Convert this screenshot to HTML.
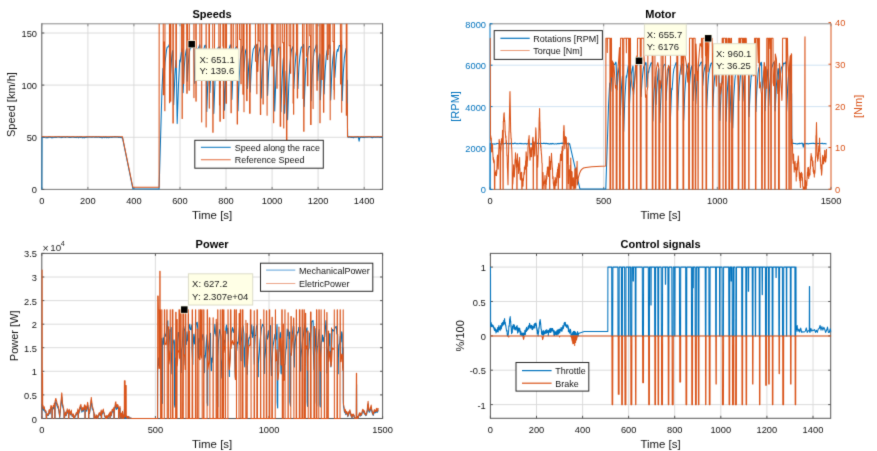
<!DOCTYPE html><html><head><meta charset="utf-8"><style>html,body{margin:0;padding:0;background:#fff;width:877px;height:451px;overflow:hidden}svg{display:block}text{font-family:"Liberation Sans",sans-serif}</style></head><body>
<svg width="877" height="451" viewBox="0 0 877 451">
<filter id="bf" x="-2%" y="-2%" width="104%" height="104%" color-interpolation-filters="sRGB"><feConvolveMatrix order="3" kernelMatrix="0.02 0.08 0.02 0.08 0.6 0.08 0.02 0.08 0.02" edgeMode="duplicate" preserveAlpha="true"/></filter>
<g filter="url(#bf)">
<rect x="-20" y="-20" width="917" height="491" fill="#fff"/>
<defs>
<clipPath id="c1"><rect x="41.2" y="23.8" width="342.0" height="166.2"/></clipPath>
<clipPath id="c2"><rect x="489.4" y="23.8" width="342.2" height="166.2"/></clipPath>
<clipPath id="c3"><rect x="41.2" y="253.4" width="342.0" height="165.7"/></clipPath>
<clipPath id="c4"><rect x="489.8" y="253.4" width="341.5" height="165.5"/></clipPath>
</defs>
<line x1="87.9" y1="23.8" x2="87.9" y2="189.4" stroke="#d8d8d8" stroke-width="0.9"/>
<line x1="133.9" y1="23.8" x2="133.9" y2="189.4" stroke="#d8d8d8" stroke-width="0.9"/>
<line x1="180.0" y1="23.8" x2="180.0" y2="189.4" stroke="#d8d8d8" stroke-width="0.9"/>
<line x1="226.0" y1="23.8" x2="226.0" y2="189.4" stroke="#d8d8d8" stroke-width="0.9"/>
<line x1="272.1" y1="23.8" x2="272.1" y2="189.4" stroke="#d8d8d8" stroke-width="0.9"/>
<line x1="318.1" y1="23.8" x2="318.1" y2="189.4" stroke="#d8d8d8" stroke-width="0.9"/>
<line x1="364.2" y1="23.8" x2="364.2" y2="189.4" stroke="#d8d8d8" stroke-width="0.9"/>
<line x1="41.8" y1="137.3" x2="382.6" y2="137.3" stroke="#d8d8d8" stroke-width="0.9"/>
<line x1="41.8" y1="85.1" x2="382.6" y2="85.1" stroke="#d8d8d8" stroke-width="0.9"/>
<line x1="41.8" y1="33.0" x2="382.6" y2="33.0" stroke="#d8d8d8" stroke-width="0.9"/>
<line x1="603.7" y1="23.8" x2="603.7" y2="189.4" stroke="#d8d8d8" stroke-width="0.9"/>
<line x1="717.3" y1="23.8" x2="717.3" y2="189.4" stroke="#d8d8d8" stroke-width="0.9"/>
<line x1="490.0" y1="148.0" x2="831.0" y2="148.0" stroke="#cbdff0" stroke-width="0.9"/>
<line x1="490.0" y1="106.6" x2="831.0" y2="106.6" stroke="#cbdff0" stroke-width="0.9"/>
<line x1="490.0" y1="65.2" x2="831.0" y2="65.2" stroke="#cbdff0" stroke-width="0.9"/>
<line x1="155.4" y1="253.4" x2="155.4" y2="418.5" stroke="#d8d8d8" stroke-width="0.9"/>
<line x1="269.0" y1="253.4" x2="269.0" y2="418.5" stroke="#d8d8d8" stroke-width="0.9"/>
<line x1="41.8" y1="394.9" x2="382.6" y2="394.9" stroke="#d8d8d8" stroke-width="0.9"/>
<line x1="41.8" y1="371.3" x2="382.6" y2="371.3" stroke="#d8d8d8" stroke-width="0.9"/>
<line x1="41.8" y1="347.7" x2="382.6" y2="347.7" stroke="#d8d8d8" stroke-width="0.9"/>
<line x1="41.8" y1="324.2" x2="382.6" y2="324.2" stroke="#d8d8d8" stroke-width="0.9"/>
<line x1="41.8" y1="300.6" x2="382.6" y2="300.6" stroke="#d8d8d8" stroke-width="0.9"/>
<line x1="41.8" y1="277.0" x2="382.6" y2="277.0" stroke="#d8d8d8" stroke-width="0.9"/>
<line x1="536.5" y1="253.4" x2="536.5" y2="418.3" stroke="#d8d8d8" stroke-width="0.9"/>
<line x1="582.6" y1="253.4" x2="582.6" y2="418.3" stroke="#d8d8d8" stroke-width="0.9"/>
<line x1="628.6" y1="253.4" x2="628.6" y2="418.3" stroke="#d8d8d8" stroke-width="0.9"/>
<line x1="674.7" y1="253.4" x2="674.7" y2="418.3" stroke="#d8d8d8" stroke-width="0.9"/>
<line x1="720.8" y1="253.4" x2="720.8" y2="418.3" stroke="#d8d8d8" stroke-width="0.9"/>
<line x1="766.9" y1="253.4" x2="766.9" y2="418.3" stroke="#d8d8d8" stroke-width="0.9"/>
<line x1="813.0" y1="253.4" x2="813.0" y2="418.3" stroke="#d8d8d8" stroke-width="0.9"/>
<line x1="490.4" y1="404.6" x2="830.7" y2="404.6" stroke="#d8d8d8" stroke-width="0.9"/>
<line x1="490.4" y1="370.2" x2="830.7" y2="370.2" stroke="#d8d8d8" stroke-width="0.9"/>
<line x1="490.4" y1="335.9" x2="830.7" y2="335.9" stroke="#d8d8d8" stroke-width="0.9"/>
<line x1="490.4" y1="301.5" x2="830.7" y2="301.5" stroke="#d8d8d8" stroke-width="0.9"/>
<line x1="490.4" y1="267.1" x2="830.7" y2="267.1" stroke="#d8d8d8" stroke-width="0.9"/>
<line x1="41.8" y1="23.8" x2="382.6" y2="23.8" stroke="#8a8a8a" stroke-width="1"/>
<line x1="41.8" y1="189.4" x2="382.6" y2="189.4" stroke="#777" stroke-width="1"/>
<line x1="41.8" y1="23.3" x2="41.8" y2="189.9" stroke="#555" stroke-width="1"/>
<line x1="382.6" y1="23.3" x2="382.6" y2="189.9" stroke="#555" stroke-width="1"/>
<line x1="41.8" y1="189.4" x2="41.8" y2="186.9" stroke="#777" stroke-width="1"/>
<line x1="41.8" y1="23.8" x2="41.8" y2="26.3" stroke="#8a8a8a" stroke-width="1"/>
<line x1="87.9" y1="189.4" x2="87.9" y2="186.9" stroke="#777" stroke-width="1"/>
<line x1="87.9" y1="23.8" x2="87.9" y2="26.3" stroke="#8a8a8a" stroke-width="1"/>
<line x1="133.9" y1="189.4" x2="133.9" y2="186.9" stroke="#777" stroke-width="1"/>
<line x1="133.9" y1="23.8" x2="133.9" y2="26.3" stroke="#8a8a8a" stroke-width="1"/>
<line x1="180.0" y1="189.4" x2="180.0" y2="186.9" stroke="#777" stroke-width="1"/>
<line x1="180.0" y1="23.8" x2="180.0" y2="26.3" stroke="#8a8a8a" stroke-width="1"/>
<line x1="226.0" y1="189.4" x2="226.0" y2="186.9" stroke="#777" stroke-width="1"/>
<line x1="226.0" y1="23.8" x2="226.0" y2="26.3" stroke="#8a8a8a" stroke-width="1"/>
<line x1="272.1" y1="189.4" x2="272.1" y2="186.9" stroke="#777" stroke-width="1"/>
<line x1="272.1" y1="23.8" x2="272.1" y2="26.3" stroke="#8a8a8a" stroke-width="1"/>
<line x1="318.1" y1="189.4" x2="318.1" y2="186.9" stroke="#777" stroke-width="1"/>
<line x1="318.1" y1="23.8" x2="318.1" y2="26.3" stroke="#8a8a8a" stroke-width="1"/>
<line x1="364.2" y1="189.4" x2="364.2" y2="186.9" stroke="#777" stroke-width="1"/>
<line x1="364.2" y1="23.8" x2="364.2" y2="26.3" stroke="#8a8a8a" stroke-width="1"/>
<line x1="41.8" y1="189.4" x2="44.3" y2="189.4" stroke="#555" stroke-width="1"/>
<line x1="382.6" y1="189.4" x2="380.1" y2="189.4" stroke="#555" stroke-width="1"/>
<line x1="41.8" y1="137.3" x2="44.3" y2="137.3" stroke="#555" stroke-width="1"/>
<line x1="382.6" y1="137.3" x2="380.1" y2="137.3" stroke="#555" stroke-width="1"/>
<line x1="41.8" y1="85.1" x2="44.3" y2="85.1" stroke="#555" stroke-width="1"/>
<line x1="382.6" y1="85.1" x2="380.1" y2="85.1" stroke="#555" stroke-width="1"/>
<line x1="41.8" y1="33.0" x2="44.3" y2="33.0" stroke="#555" stroke-width="1"/>
<line x1="382.6" y1="33.0" x2="380.1" y2="33.0" stroke="#555" stroke-width="1"/>
<line x1="490.0" y1="23.8" x2="831.0" y2="23.8" stroke="#8a8a8a" stroke-width="1"/>
<line x1="490.0" y1="189.4" x2="831.0" y2="189.4" stroke="#777" stroke-width="1"/>
<line x1="490.0" y1="23.3" x2="490.0" y2="189.9" stroke="#0072BD" stroke-width="1"/>
<line x1="831.0" y1="23.3" x2="831.0" y2="189.9" stroke="#D95319" stroke-width="1"/>
<line x1="490.0" y1="189.4" x2="490.0" y2="186.9" stroke="#777" stroke-width="1"/>
<line x1="490.0" y1="23.8" x2="490.0" y2="26.3" stroke="#8a8a8a" stroke-width="1"/>
<line x1="603.7" y1="189.4" x2="603.7" y2="186.9" stroke="#777" stroke-width="1"/>
<line x1="603.7" y1="23.8" x2="603.7" y2="26.3" stroke="#8a8a8a" stroke-width="1"/>
<line x1="717.3" y1="189.4" x2="717.3" y2="186.9" stroke="#777" stroke-width="1"/>
<line x1="717.3" y1="23.8" x2="717.3" y2="26.3" stroke="#8a8a8a" stroke-width="1"/>
<line x1="831.0" y1="189.4" x2="831.0" y2="186.9" stroke="#777" stroke-width="1"/>
<line x1="831.0" y1="23.8" x2="831.0" y2="26.3" stroke="#8a8a8a" stroke-width="1"/>
<line x1="490.0" y1="189.4" x2="492.5" y2="189.4" stroke="#0072BD" stroke-width="1"/>
<line x1="490.0" y1="148.0" x2="492.5" y2="148.0" stroke="#0072BD" stroke-width="1"/>
<line x1="490.0" y1="106.6" x2="492.5" y2="106.6" stroke="#0072BD" stroke-width="1"/>
<line x1="490.0" y1="65.2" x2="492.5" y2="65.2" stroke="#0072BD" stroke-width="1"/>
<line x1="490.0" y1="23.8" x2="492.5" y2="23.8" stroke="#0072BD" stroke-width="1"/>
<line x1="831.0" y1="189.2" x2="828.5" y2="189.2" stroke="#D95319" stroke-width="1"/>
<line x1="831.0" y1="147.5" x2="828.5" y2="147.5" stroke="#D95319" stroke-width="1"/>
<line x1="831.0" y1="105.9" x2="828.5" y2="105.9" stroke="#D95319" stroke-width="1"/>
<line x1="831.0" y1="64.2" x2="828.5" y2="64.2" stroke="#D95319" stroke-width="1"/>
<line x1="831.0" y1="22.6" x2="828.5" y2="22.6" stroke="#D95319" stroke-width="1"/>
<line x1="41.8" y1="253.4" x2="382.6" y2="253.4" stroke="#555" stroke-width="1"/>
<line x1="41.8" y1="418.5" x2="382.6" y2="418.5" stroke="#555" stroke-width="1"/>
<line x1="41.8" y1="252.9" x2="41.8" y2="419.0" stroke="#555" stroke-width="1"/>
<line x1="382.6" y1="252.9" x2="382.6" y2="419.0" stroke="#555" stroke-width="1"/>
<line x1="41.8" y1="418.5" x2="41.8" y2="416.0" stroke="#555" stroke-width="1"/>
<line x1="41.8" y1="253.4" x2="41.8" y2="255.9" stroke="#555" stroke-width="1"/>
<line x1="155.4" y1="418.5" x2="155.4" y2="416.0" stroke="#555" stroke-width="1"/>
<line x1="155.4" y1="253.4" x2="155.4" y2="255.9" stroke="#555" stroke-width="1"/>
<line x1="269.0" y1="418.5" x2="269.0" y2="416.0" stroke="#555" stroke-width="1"/>
<line x1="269.0" y1="253.4" x2="269.0" y2="255.9" stroke="#555" stroke-width="1"/>
<line x1="382.6" y1="418.5" x2="382.6" y2="416.0" stroke="#555" stroke-width="1"/>
<line x1="382.6" y1="253.4" x2="382.6" y2="255.9" stroke="#555" stroke-width="1"/>
<line x1="41.8" y1="418.5" x2="44.3" y2="418.5" stroke="#555" stroke-width="1"/>
<line x1="382.6" y1="418.5" x2="380.1" y2="418.5" stroke="#555" stroke-width="1"/>
<line x1="41.8" y1="394.9" x2="44.3" y2="394.9" stroke="#555" stroke-width="1"/>
<line x1="382.6" y1="394.9" x2="380.1" y2="394.9" stroke="#555" stroke-width="1"/>
<line x1="41.8" y1="371.3" x2="44.3" y2="371.3" stroke="#555" stroke-width="1"/>
<line x1="382.6" y1="371.3" x2="380.1" y2="371.3" stroke="#555" stroke-width="1"/>
<line x1="41.8" y1="347.7" x2="44.3" y2="347.7" stroke="#555" stroke-width="1"/>
<line x1="382.6" y1="347.7" x2="380.1" y2="347.7" stroke="#555" stroke-width="1"/>
<line x1="41.8" y1="324.2" x2="44.3" y2="324.2" stroke="#555" stroke-width="1"/>
<line x1="382.6" y1="324.2" x2="380.1" y2="324.2" stroke="#555" stroke-width="1"/>
<line x1="41.8" y1="300.6" x2="44.3" y2="300.6" stroke="#555" stroke-width="1"/>
<line x1="382.6" y1="300.6" x2="380.1" y2="300.6" stroke="#555" stroke-width="1"/>
<line x1="41.8" y1="277.0" x2="44.3" y2="277.0" stroke="#555" stroke-width="1"/>
<line x1="382.6" y1="277.0" x2="380.1" y2="277.0" stroke="#555" stroke-width="1"/>
<line x1="41.8" y1="253.4" x2="44.3" y2="253.4" stroke="#555" stroke-width="1"/>
<line x1="382.6" y1="253.4" x2="380.1" y2="253.4" stroke="#555" stroke-width="1"/>
<line x1="490.4" y1="253.4" x2="830.7" y2="253.4" stroke="#555" stroke-width="1"/>
<line x1="490.4" y1="418.3" x2="830.7" y2="418.3" stroke="#555" stroke-width="1"/>
<line x1="490.4" y1="252.9" x2="490.4" y2="418.8" stroke="#555" stroke-width="1"/>
<line x1="830.7" y1="252.9" x2="830.7" y2="418.8" stroke="#555" stroke-width="1"/>
<line x1="490.4" y1="418.3" x2="490.4" y2="415.8" stroke="#555" stroke-width="1"/>
<line x1="490.4" y1="253.4" x2="490.4" y2="255.9" stroke="#555" stroke-width="1"/>
<line x1="536.5" y1="418.3" x2="536.5" y2="415.8" stroke="#555" stroke-width="1"/>
<line x1="536.5" y1="253.4" x2="536.5" y2="255.9" stroke="#555" stroke-width="1"/>
<line x1="582.6" y1="418.3" x2="582.6" y2="415.8" stroke="#555" stroke-width="1"/>
<line x1="582.6" y1="253.4" x2="582.6" y2="255.9" stroke="#555" stroke-width="1"/>
<line x1="628.6" y1="418.3" x2="628.6" y2="415.8" stroke="#555" stroke-width="1"/>
<line x1="628.6" y1="253.4" x2="628.6" y2="255.9" stroke="#555" stroke-width="1"/>
<line x1="674.7" y1="418.3" x2="674.7" y2="415.8" stroke="#555" stroke-width="1"/>
<line x1="674.7" y1="253.4" x2="674.7" y2="255.9" stroke="#555" stroke-width="1"/>
<line x1="720.8" y1="418.3" x2="720.8" y2="415.8" stroke="#555" stroke-width="1"/>
<line x1="720.8" y1="253.4" x2="720.8" y2="255.9" stroke="#555" stroke-width="1"/>
<line x1="766.9" y1="418.3" x2="766.9" y2="415.8" stroke="#555" stroke-width="1"/>
<line x1="766.9" y1="253.4" x2="766.9" y2="255.9" stroke="#555" stroke-width="1"/>
<line x1="813.0" y1="418.3" x2="813.0" y2="415.8" stroke="#555" stroke-width="1"/>
<line x1="813.0" y1="253.4" x2="813.0" y2="255.9" stroke="#555" stroke-width="1"/>
<line x1="490.4" y1="404.6" x2="492.9" y2="404.6" stroke="#555" stroke-width="1"/>
<line x1="830.7" y1="404.6" x2="828.2" y2="404.6" stroke="#555" stroke-width="1"/>
<line x1="490.4" y1="370.2" x2="492.9" y2="370.2" stroke="#555" stroke-width="1"/>
<line x1="830.7" y1="370.2" x2="828.2" y2="370.2" stroke="#555" stroke-width="1"/>
<line x1="490.4" y1="335.9" x2="492.9" y2="335.9" stroke="#555" stroke-width="1"/>
<line x1="830.7" y1="335.9" x2="828.2" y2="335.9" stroke="#555" stroke-width="1"/>
<line x1="490.4" y1="301.5" x2="492.9" y2="301.5" stroke="#555" stroke-width="1"/>
<line x1="830.7" y1="301.5" x2="828.2" y2="301.5" stroke="#555" stroke-width="1"/>
<line x1="490.4" y1="267.1" x2="492.9" y2="267.1" stroke="#555" stroke-width="1"/>
<line x1="830.7" y1="267.1" x2="828.2" y2="267.1" stroke="#555" stroke-width="1"/>
<path d="M41.8,189.4 L42,137.3 L42.6,137.4 L43,137.1 L43.2,137.3 L43.4,137.2 L43.9,137.5 L44.2,137.5 L44.6,137.4 L44.7,137.3 L45,137.6 L45.9,137.7 L46.3,137.8 L46.5,137.5 L46.6,137.7 L47.1,137.6 L47.3,137.7 L47.6,137.6 L47.7,137.6 L47.8,137.5 L48.1,137.7 L48.6,137.1 L48.8,137 L49.1,137.1 L49.2,137 L50.2,137.2 L50.3,137.1 L50.7,137.5 L50.9,137.4 L51.1,137.6 L51.4,137.6 L51.5,137.7 L51.6,137.6 L52.2,137.6 L52.3,137.4 L52.7,137.7 L53.8,137.6 L54,137.3 L54.1,137.4 L54.3,137.2 L54.5,137.3 L54.7,137.2 L55.2,137.4 L55.5,137.3 L55.6,137.1 L56.3,137.4 L57.2,137.1 L57.5,136.9 L57.7,136.9 L57.9,137.1 L58.4,136.9 L58.5,137.1 L58.7,136.9 L58.8,137 L59.1,136.9 L59.4,137.2 L59.5,137.1 L60.2,137.3 L60.5,137.2 L60.9,137.4 L61.1,137.6 L61.4,137.3 L61.5,137.4 L61.7,137.1 L61.9,137.4 L62.5,137.4 L62.8,137 L63,137.2 L63.1,136.9 L63.4,137.1 L63.8,137 L64,137.1 L64.4,137 L64.6,137.2 L64.7,137.1 L65.1,137.4 L65.3,137.3 L65.4,137.4 L65.6,137.2 L65.9,137.3 L66.2,136.9 L66.6,136.9 L67,137.1 L67.1,136.9 L67.4,136.8 L67.7,136.8 L67.9,137 L68.1,137 L68.3,137.3 L68.5,137.3 L68.9,137.4 L69.2,137.3 L69.4,137.4 L69.9,137.2 L70.1,137.4 L70.4,137.3 L70.6,137.5 L71.3,137.4 L71.7,137 L72.3,137.1 L72.4,137 L72.7,137.3 L73,137.1 L73.1,137.3 L73.3,137 L74,137.3 L74.3,137.2 L74.5,137.2 L74.6,137.4 L75.2,137.5 L75.4,137.4 L75.8,137.5 L76,137.4 L76.1,137.6 L76.2,137.4 L76.3,137.5 L76.6,137.4 L76.9,137.4 L77.4,137 L78.2,137.6 L78.3,137.5 L78.5,137.8 L78.9,137.4 L79.2,137.1 L80.1,137.4 L80.3,137.3 L80.5,137.5 L81.1,137 L81.2,136.9 L82,137.6 L82.3,137.6 L83,137.6 L83.4,137.4 L83.8,137.4 L83.9,137.4 L84.2,137.9 L84.7,137.4 L85,137.5 L85.8,137.3 L86.1,137.4 L86.2,137.2 L86.8,137 L87,137.1 L87.2,137 L87.7,137.3 L87.9,137.1 L88.1,137.3 L88.4,137 L88.9,137.1 L89.2,136.9 L89.5,137.1 L89.7,136.9 L89.9,137 L90.3,136.9 L90.8,137.3 L91.2,137.1 L91.4,137.3 L91.5,137.1 L91.7,137.3 L92.3,137.1 L92.6,137.1 L92.9,136.8 L93.2,137 L93.6,136.9 L94.3,137.3 L94.5,137.1 L94.8,137.3 L95.2,137.1 L95.5,137.1 L95.8,136.9 L96.1,137.2 L96.6,136.9 L97.3,137.2 L98,137 L98.2,137.3 L98.8,136.9 L99,137 L99.3,137.1 L99.6,137.2 L99.7,137.5 L100.3,137.3 L100.9,137.4 L101,137.3 L101.3,137.7 L101.4,137.4 L101.9,137.6 L102,137.7 L102.2,137.6 L102.6,137.8 L103.3,137.1 L103.5,137.3 L103.9,137.2 L104.1,137.5 L104.4,137.4 L104.7,137.6 L105.1,137.2 L105.4,137.4 L105.6,137.1 L106,137.2 L106.3,137.5 L106.4,137.4 L106.7,137.8 L107.1,137.5 L107.9,137.5 L108,137.3 L108.1,137.4 L108.5,137.5 L108.6,137.7 L108.8,137.7 L109.4,137.6 L109.6,137.4 L109.7,137.5 L110.3,137.3 L110.5,137.3 L110.9,137.1 L111.8,137.5 L112,137.2 L112.1,137.4 L112.5,137.2 L112.7,136.9 L113,136.9 L113.1,137.2 L113.6,137.1 L114,136.8 L114.3,136.8 L114.5,137 L114.6,136.8 L114.8,137.1 L115,136.8 L115.3,137 L115.4,136.7 L115.7,137.1 L116.2,136.8 L116.4,136.9 L116.5,137 L116.9,137.2 L117.1,137 L117.6,136.9 L117.8,137.1 L118,136.9 L118.5,137.4 L118.7,137.2 L119.4,137.4 L119.6,137.2 L119.9,137.3 L120,137.2 L120.3,137.4 L120.9,137.5 L121.1,137.8 L121.2,137.7 L121.4,137.8 L121.8,137.5 L122.3,137.6 L122.4,137.3 L132.9,188.8 L159.1,188.9 L161.9,91.9 L162.9,70 L163,68.2 L163.4,70.8 L164,77.7 L164.1,77.9 L165,62.7 L166.4,50.9 L167.1,47.4 L167.4,46.9 L168.1,47 L168.6,46.3 L169.3,44.4 L169.5,45.7 L170.4,76.2 L171.7,57.4 L172.4,51.8 L172.7,50.6 L172.9,51.8 L173.7,104.8 L174.9,75.1 L175.9,60.3 L176.2,61.5 L177.2,123.6 L178.5,84.4 L179.6,62.9 L179.8,60.1 L180.2,62 L181.6,50.7 L181.9,48.6 L182.1,49.8 L183.1,92.7 L184.2,68 L185,57.5 L185.9,52 L186.5,48.9 L186.8,50.2 L187.1,81.1 L187.2,81.3 L188.1,65.2 L189.4,52.1 L190,48.9 L190.3,48.2 L191,47.7 L192.2,44.5 L192.5,44.3 L193.4,45.8 L193.7,45.8 L193.9,47 L194.7,82.9 L194.8,83.5 L195.9,65 L197.1,51.8 L197.7,48.9 L198.2,48.3 L198.6,47.9 L199.7,44.8 L199.9,46.1 L200.7,72.8 L202,55.9 L202.1,54.8 L202.4,56.7 L203.1,52.1 L204.8,45.5 L205.2,45.1 L205.6,45.6 L205.9,45.9 L206.1,47.2 L206.8,111.4 L207.9,79.1 L209.1,61 L209.3,62.2 L209.9,92.8 L210.9,70.5 L212.2,54.6 L212.5,51.8 L212.8,53.1 L213.8,113.6 L215,80.3 L215.9,64.5 L217.3,51.2 L217.8,48.2 L218.2,47.7 L218.8,47.5 L219.2,46.7 L219.5,47.9 L220,86.2 L220.1,88 L221.2,67.7 L222.4,53.1 L223,49.7 L223.1,49.4 L223.4,50.7 L224.5,110.2 L225.7,78.4 L225.9,74 L226.2,75.9 L227.4,58.3 L228.1,52.4 L228.8,50.1 L230.3,45 L230.5,44.9 L230.7,45 L231,46.3 L231.9,99.4 L233,71.9 L234,59.7 L235.1,50 L235.7,47.7 L236,47.5 L236.5,47.4 L237,46.6 L237.2,47.8 L238,110.7 L239.1,79 L240.3,59.9 L241,53.9 L242.7,46.2 L242.9,47.5 L243.6,71.4 L243.7,71.8 L245,55.4 L245.7,50.4 L246.2,49.1 L246.4,48.8 L246.6,50.1 L247.5,88.5 L248.6,67.6 L249.4,58.2 L249.6,59.4 L250.1,91.5 L250.2,92.1 L251.2,69.9 L252.5,54.7 L253.2,49.7 L253.6,48.5 L254.3,47.8 L255.5,44.6 L255.8,44.3 L256.5,45.5 L256.8,46.8 L257.2,71.4 L258.3,56.9 L258.9,52.5 L260.2,47 L260.4,48.3 L261.1,97.6 L261.2,98.1 L262.4,71.5 L263.3,58.1 L264,53.2 L265.6,46 L266,45.4 L266.3,45.6 L266.9,46.3 L267.1,47.5 L267.5,92.2 L267.6,95.4 L268.6,71.6 L269.7,58.4 L270.7,49.8 L270.8,49.2 L271.1,51.1 L271.7,49.6 L272.4,47.8 L273.2,45 L273.3,44.8 L273.6,46 L274.7,111 L275.9,78.7 L276.8,63.6 L278.1,51.4 L278.6,48.4 L279,47.8 L279.6,47.6 L280,46.7 L280.2,48 L280.9,111.8 L282.1,79.7 L283.2,60.3 L283.5,57.7 L283.7,58.9 L284.6,113.3 L285.8,80.1 L286.2,71 L286.5,72.3 L287.6,119.7 L288.8,84.2 L289.8,65.5 L291,52.7 L291.5,49.8 L292.4,48.1 L292.9,46.6 L293.1,47.8 L293.8,88.6 L294.9,68 L296,54 L296.6,50.6 L297.1,49.5 L297.3,50.8 L297.7,86.7 L297.9,88.8 L298.9,67.4 L299.8,57.2 L301.1,48.2 L301.5,47 L301.9,46.9 L302.4,47.1 L302.8,46.3 L303.5,44.4 L303.7,45.7 L304.1,105.4 L304.2,106.6 L305.3,76.5 L306.4,59.8 L306.5,58.6 L306.8,60.5 L308.3,49.4 L308.9,46.9 L309.3,46.5 L309.9,46.8 L310.4,46.2 L310.6,47.4 L311.1,100.7 L312.1,75.2 L313.4,57.1 L314.1,51.4 L314.7,49.6 L315.4,48.1 L316.3,44.9 L316.6,44.6 L316.9,45.9 L317.7,80.6 L318.8,60.8 L319.5,54.5 L319.6,53.8 L319.9,55.1 L320.3,99.7 L320.4,99.7 L321.6,72 L322.5,59.7 L323.3,52.7 L323.5,54 L324.1,94 L325.1,71.3 L326.3,55.8 L327,51.1 L328.1,47.9 L328.9,45.1 L329.3,44.7 L329.9,45.6 L330.2,47 L330.6,99.8 L330.7,100.1 L331.8,72.3 L332.7,60 L333.7,51.7 L333.9,52.9 L334.7,77 L334.8,77.5 L336,59.8 L336.8,52.1 L337.4,49.9 L337.6,49.4 L337.9,51.3 L339.1,46 L339.4,45.5 L339.8,45.6 L340.3,46.3 L340.7,46 L341.5,44.1 L341.7,45.4 L342.2,100.6 L343.3,73 L344.4,57.8 L345.1,53 L346.1,48.3 L346.3,49.6 L346.9,88.3 L347.3,80.2 L347.5,128.1 L347.7,135.8 L347.9,137 L348.4,137.3 L348.8,137.1 L348.9,137.2 L349,136.9 L349.1,137 L349.4,136.8 L349.6,137 L349.8,137 L350.1,137.2 L350.7,137.2 L351.2,137.5 L351.4,137.2 L352.7,137.6 L353.1,137.5 L353.5,137.7 L354.2,137.3 L354.7,137.2 L354.9,137 L355.2,137.3 L355.5,137.1 L355.7,137.2 L355.8,137.1 L356,137.3 L356.8,137.1 L357,137.3 L357.5,136.8 L357.7,136.7 L358.1,137 L358.2,136.9 L358.4,136.9 L359.1,141.2 L359.8,137.2 L360.6,137.6 L361.1,137.1 L361.3,137.2 L361.6,137 L361.8,137.3 L362.1,137.3 L362.3,137.5 L363,137.1 L363.7,137.4 L364.1,137.7 L364.5,137.4 L364.9,137.2 L365.2,137.3 L365.7,137 L366.3,137.2 L366.6,137 L367.1,137.2 L367.5,137.2 L367.7,136.9 L368.1,137 L368.2,136.9 L368.4,137.1 L368.7,136.9 L368.9,136.9 L369,136.8 L369.5,137 L369.7,136.9 L369.8,137.1 L370.5,137 L371,137.4 L371.3,137.1 L371.5,137.3 L371.7,137.3 L372,137.6 L372.1,137.5 L372.5,137.7 L372.8,137.5 L373,137.5 L373.6,137 L374.3,137.2 L374.4,137 L374.9,137.3 L375.2,137.2 L375.3,137.3 L375.6,137.3 L375.7,137.4 L376.2,137.2 L376.3,137.3 L376.8,137.1 L377.2,137.1 L377.3,137 L377.4,137.1 L377.8,137.1 L378,136.9 L378.7,137.3 L378.9,137.1 L379.1,137.3 L379.8,137.4 L380.2,137.1 L380.5,137.2 L381.1,137.1 L381.4,137.4 L381.8,137.4 L382,137.4 L382.1,137.6 L382.4,137.4 L382.6,137.6" fill="none" stroke="#0072BD" stroke-width="1.05" stroke-opacity="1" stroke-linejoin="round" clip-path="url(#c1)"/>
<path d="M41.8,136.7 L122.4,136.7 L132.8,187.2 L133,187.3 L159.1,187.3 L159.2,-40 L163.2,-40 L163.3,94.7 L163.6,94.7 L163.7,41.9 L164.6,41.9 L164.8,110.8 L164.9,110.8 L165,-40 L169.4,-40 L169.5,102.7 L169.7,102.7 L169.8,-40 L170.6,-40 L170.8,101.3 L170.9,-40 L172.8,-40 L172.9,122.9 L173.3,122.9 L173.4,-40 L175.8,-40 L175.9,67.4 L176.4,67.4 L176.5,-40 L181.5,-40 L181.6,51.6 L182,51.6 L182.1,118.4 L182.3,118.4 L182.4,-40 L183.5,-40 L183.6,83.6 L183.8,83.6 L183.9,-40 L186.6,-40 L186.8,93.2 L187.2,93.2 L187.3,-40 L187.4,-40 L187.6,40.2 L188.9,40.2 L189.1,90.2 L189.3,90.2 L189.4,-40 L193.8,-40 L193.9,97.6 L194,97.6 L194.1,-40 L195.7,-40 L195.9,101.1 L196.2,101.1 L196.3,-40 L199.8,-40 L199.9,80 L200,-40 L201.6,-40 L201.7,121.9 L201.8,-40 L206,-40 L206.1,127 L206.2,127 L206.3,-40 L208.9,-40 L209,86.1 L209.2,86.1 L209.3,108.1 L209.4,108.1 L209.6,-40 L212.7,-40 L212.8,132.3 L213.1,132.3 L213.2,50.6 L214.3,50.6 L214.4,55.6 L214.5,55.6 L214.6,-40 L218.8,-40 L218.9,55.4 L219.3,55.4 L219.5,104.9 L219.8,104.9 L219.9,121.3 L220.3,121.3 L220.4,-40 L222.8,-40 L222.9,46.1 L223.3,46.1 L223.4,118.5 L223.8,118.5 L223.9,-40 L225.3,-40 L225.4,54.2 L225.9,54.2 L226,103.3 L226.5,103.3 L226.6,-40 L230.9,-40 L231,112.8 L231.3,112.8 L231.4,-40 L233,-40 L233.2,68.3 L233.3,68.3 L233.4,-40 L235.9,-40 L236,46.7 L237.1,46.7 L237.2,123.9 L237.5,123.9 L237.6,-40 L239.5,-40 L239.6,39.5 L240.8,39.5 L240.9,83.8 L241.2,83.8 L241.3,-40 L242.8,-40 L242.9,94.1 L243.3,94.1 L243.4,-40 L243.9,-40 L244,111.7 L244.1,-40 L246.5,-40 L246.6,100.6 L247.1,100.6 L247.2,-40 L249.5,-40 L249.6,113.3 L249.8,113.3 L250,102.2 L250.1,113.3 L250.2,-40 L255.4,-40 L255.5,61.2 L256.6,61.2 L256.8,93.7 L256.9,93.7 L257,44.3 L257.7,44.3 L257.8,71.2 L257.9,71.2 L258,-40 L258.9,-40 L259.1,41 L260.3,41 L260.4,114.5 L260.7,114.5 L260.8,-40 L262.9,-40 L263,103.9 L263.3,103.9 L263.4,-40 L265.9,-40 L266,60.1 L267,60.1 L267.1,115.3 L267.2,-40 L271.3,-40 L271.4,46.8 L271.8,46.8 L272,65.9 L272.3,65.9 L272.4,-40 L272.5,55.3 L273.5,55.3 L273.6,122.8 L273.7,122.8 L273.8,-40 L276.8,-40 L276.9,88.2 L277.1,88.2 L277.3,-40 L278.9,-40 L279,47.4 L280.1,47.4 L280.2,126.3 L280.7,126.3 L280.8,-40 L282.5,-40 L282.7,42.7 L283.6,42.7 L283.7,128 L283.8,128 L283.9,42.7 L284,104.2 L284.4,104.2 L284.5,-40 L286.3,-40 L286.5,141 L286.9,141 L287,-40 L289.1,-40 L289.2,45.7 L290.1,45.7 L290.3,73.3 L290.7,73.3 L290.8,-40 L293,-40 L293.1,103.1 L293.4,103.1 L293.5,-40 L293.6,114.2 L293.7,114.2 L293.8,-40 L296.4,-40 L296.5,54.9 L297.2,54.9 L297.3,98 L297.6,98 L297.7,-40 L302.5,-40 L302.6,52.3 L302.9,52.3 L303,98.5 L303.2,48.6 L303.6,48.6 L303.7,131.3 L304,131.3 L304.1,-40 L306.4,-40 L306.5,56.3 L307.4,56.3 L307.5,85.7 L307.9,85.7 L308,-40 L309.7,-40 L309.8,35.7 L310.5,35.7 L310.6,124.4 L311.1,124.4 L311.2,-40 L312.9,-40 L313.1,108.6 L313.2,-40 L315.9,-40 L316.1,51.9 L316.7,51.9 L316.9,90.3 L317.2,90.3 L317.3,-40 L319.7,-40 L319.9,122.7 L320.1,122.7 L320.2,-40 L321.6,-40 L321.7,79.5 L322.2,79.5 L322.3,-40 L323,-40 L323.1,53.9 L323.4,53.9 L323.5,112.2 L323.8,112.2 L323.9,-40 L327.1,-40 L327.2,59.5 L327.7,59.5 L327.8,54.4 L328.3,54.4 L328.4,-40 L329.5,-40 L329.6,48.4 L330.1,48.4 L330.2,119.8 L330.3,-40 L332.9,-40 L333,41.4 L333.8,41.4 L333.9,89.6 L334.1,89.6 L334.2,99.2 L334.4,89.6 L334.5,-40 L340.3,-40 L340.5,84 L340.8,84 L340.9,41 L341.6,41 L341.7,112.2 L341.8,-40 L346.2,-40 L346.3,115.3 L346.4,115.3 L346.6,-40 L346.9,-40 L347,103.6 L347.4,103.6 L347.5,136.7 L382.6,136.7" fill="none" stroke="#D95319" stroke-width="1.05" stroke-opacity="1" stroke-linejoin="round" clip-path="url(#c1)"/>
<path d="M490,189.4 L490.2,143.6 L490.9,143.6 L491.1,143.5 L491.4,143.7 L491.6,143.5 L492,143.8 L492.7,143.8 L492.8,143.7 L493.4,143.9 L494,143.9 L494.2,144.1 L494.4,144.1 L494.7,143.8 L494.8,144 L495.2,143.9 L495.5,144 L495.7,143.9 L495.8,143.9 L496,143.9 L496.3,144 L496.7,143.5 L496.9,143.4 L497.2,143.5 L497.4,143.4 L498.4,143.5 L498.8,143.8 L499,143.7 L499.2,143.9 L499.4,143.9 L499.5,144 L500.2,143.9 L500.5,143.8 L500.8,144 L501.8,143.9 L502,143.6 L502.2,143.8 L502.4,143.6 L502.5,143.7 L502.8,143.6 L503.2,143.7 L503.6,143.5 L504.3,143.7 L505.2,143.5 L505.5,143.3 L506,143.4 L506.4,143.3 L506.5,143.5 L506.7,143.3 L506.8,143.4 L507.1,143.3 L507.4,143.6 L507.5,143.5 L508.2,143.7 L508.4,143.5 L509.1,143.9 L509.3,143.6 L509.4,143.7 L509.7,143.5 L509.9,143.8 L510.5,143.7 L510.7,143.4 L510.9,143.5 L511,143.3 L511.4,143.5 L511.7,143.4 L512.1,143.5 L512.3,143.3 L512.5,143.6 L512.6,143.5 L513,143.7 L513.2,143.6 L513.4,143.6 L513.8,143.6 L514.1,143.3 L514.6,143.3 L514.9,143.5 L515,143.3 L515.6,143.2 L515.8,143.4 L515.9,143.4 L516.1,143.7 L516.4,143.6 L516.7,143.8 L517.1,143.7 L517.3,143.7 L517.7,143.5 L518,143.7 L518.3,143.7 L518.5,143.8 L519.1,143.7 L519.6,143.4 L520.1,143.5 L520.2,143.4 L520.5,143.6 L520.8,143.5 L520.9,143.6 L521.1,143.4 L521.8,143.7 L522.2,143.6 L522.4,143.8 L523.2,143.7 L523.5,143.8 L523.8,143.8 L523.9,143.9 L524,143.8 L524.1,143.8 L524.3,143.7 L524.7,143.7 L525.1,143.4 L525.9,143.9 L526,143.9 L526.3,144.1 L526.8,143.5 L527.1,143.5 L527.9,143.8 L528,143.7 L528.2,143.8 L528.9,143.3 L529.7,143.9 L530.1,143.9 L530.8,143.9 L531.1,143.8 L531.6,143.8 L531.8,144.1 L532.4,143.7 L532.6,143.8 L533.4,143.6 L533.8,143.7 L533.9,143.6 L534.4,143.4 L534.7,143.5 L534.8,143.3 L535.4,143.6 L535.5,143.5 L535.7,143.7 L536.1,143.4 L536.5,143.4 L536.8,143.3 L537.1,143.4 L537.3,143.3 L537.5,143.4 L537.9,143.3 L538.4,143.7 L538.8,143.5 L539,143.6 L539.1,143.5 L539.3,143.6 L540.1,143.5 L540.5,143.2 L540.7,143.4 L541.1,143.3 L541.8,143.6 L542.1,143.5 L542.3,143.6 L542.9,143.4 L543.4,143.3 L543.7,143.5 L544.1,143.3 L545,143.6 L545.5,143.4 L545.7,143.7 L546.3,143.3 L546.5,143.4 L547.1,143.5 L547.2,143.8 L547.7,143.6 L548.3,143.7 L548.4,143.6 L548.8,144 L549,143.8 L549.4,144 L549.7,143.9 L550,144.1 L550.7,143.5 L550.9,143.7 L551.3,143.5 L551.5,143.9 L551.9,143.8 L552.1,143.9 L552.5,143.6 L552.7,143.7 L553,143.4 L553.4,143.6 L553.7,143.8 L553.8,143.7 L554.1,144.1 L554.4,143.9 L555.2,143.8 L555.4,143.7 L555.8,143.9 L555.9,144 L556.2,144 L556.7,143.9 L556.9,143.7 L557.6,143.6 L557.9,143.7 L558.2,143.4 L559.1,143.8 L559.3,143.6 L559.5,143.7 L559.8,143.6 L560,143.3 L560.2,143.3 L560.4,143.5 L560.9,143.5 L561.3,143.2 L561.6,143.2 L561.7,143.4 L561.8,143.2 L562.1,143.5 L562.3,143.2 L562.5,143.4 L562.6,143.1 L563,143.5 L563.4,143.2 L564.1,143.5 L564.3,143.4 L564.8,143.3 L565,143.5 L565.2,143.3 L565.7,143.7 L565.9,143.6 L566.6,143.8 L566.8,143.6 L567.1,143.7 L567.2,143.6 L567.5,143.7 L568.1,143.8 L568.3,144.1 L568.4,144 L568.5,144.1 L569,143.8 L569.5,143.9 L569.6,143.6 L579.9,188.9 L605.8,188.9 L608.6,103.8 L609.6,84.5 L609.7,83 L610,85.3 L610.6,91.3 L610.7,91.5 L611.6,78.1 L613,67.8 L613.7,64.7 L614,64.2 L614.7,64.4 L615.1,63.7 L615.8,62.1 L616.1,63.2 L617,90 L618.2,73.4 L618.9,68.6 L619.2,67.5 L619.5,68.6 L620.3,115.1 L621.4,89 L622.4,76 L622.6,77.1 L623.7,131.6 L624.9,97.2 L626.1,78.3 L626.3,75.8 L626.6,77.5 L628.1,66.9 L628.3,65.7 L628.6,66.8 L629.5,104.5 L630.6,82.8 L631.4,73.6 L632.3,68.7 L632.9,66 L633.1,67.1 L633.4,94.3 L633.6,94.5 L634.6,79.1 L635.8,68.1 L636.4,65.7 L636.9,65.3 L637.3,64.9 L638.6,62 L638.9,62 L639.7,63.3 L639.9,63.3 L640.2,64.4 L640.9,95.9 L641.1,96.4 L642.1,80.2 L643.3,68.6 L643.9,66 L644.4,65.5 L644.9,64.9 L645.8,62.4 L646.1,63.5 L646.9,87 L648.1,72.2 L648.2,71.2 L648.6,72.8 L649.2,68.8 L651.1,62.8 L651.4,62.7 L652,63.4 L652.2,64.5 L652.9,120.9 L654,92.5 L655.2,76.6 L655.4,77.7 L656,104.6 L657,85 L658.2,71 L658.6,68.6 L658.8,69.7 L659.8,122.8 L661,93.5 L661.9,79.7 L663.2,68 L663.8,65.4 L664.1,65 L664.7,64.8 L665.2,64 L665.4,65.1 L666,98.8 L666.1,100.3 L667.1,82.5 L668.3,69.7 L668.9,66.7 L669,66.5 L669.3,67.6 L670.4,119.9 L671.5,91.9 L671.8,88 L672.1,89.7 L673.2,74.3 L673.9,69.1 L674.6,67.1 L676.1,62.6 L676.4,62.5 L676.6,63.2 L676.8,63.7 L677.7,110.4 L678.8,86.2 L679.7,75.5 L681,66.4 L681.4,65 L681.8,64.8 L682.2,64.7 L682.7,64 L682.9,65.1 L683.7,120.3 L684.8,92.5 L686,75.7 L686.6,70.4 L688.3,63.7 L688.6,64.8 L689.3,85.7 L689.4,86.1 L690.6,71.7 L691.3,67.3 L691.8,66.2 L692,65.9 L692.2,67 L693.1,100.8 L694.1,82.4 L694.9,74.2 L695.2,75.3 L695.6,103.4 L695.7,103.9 L696.8,84.4 L698,71.1 L698.7,66.7 L699.1,65.6 L699.8,65.1 L701.1,62.1 L701.4,62.1 L702,63.1 L702.2,64.2 L702.7,85.7 L703.7,73 L704.4,69.1 L705.6,64.4 L705.9,65.5 L706.5,108.8 L706.6,109.2 L707.8,85.8 L708.7,74.1 L709.4,69.8 L711,63.5 L711.3,63 L711.6,63.1 L712.2,63.7 L712.4,64.8 L712.8,104 L712.9,106.9 L713.9,85.9 L714.9,74.3 L716,66.8 L716.1,66.3 L716.4,67.9 L717.1,66.4 L718,63.8 L718.6,62.4 L718.8,63.5 L719.9,120.5 L721.1,92.2 L722,78.9 L723.2,68.2 L723.8,65.6 L724.2,65.1 L724.7,64.9 L725.2,64.1 L725.4,65.2 L726.1,121.3 L727.2,93 L728.4,76 L728.6,73.7 L728.8,74.8 L729.7,122.5 L730.9,93.4 L731.3,85.4 L731.5,86.5 L732.7,128.1 L733.8,97 L734.8,80.6 L736,69.3 L736.5,66.8 L737.6,65 L737.9,64 L738.1,65.1 L738.8,100.8 L739.8,82.8 L741,70.5 L741.5,67.5 L742,66.6 L742.2,67.7 L742.7,99.2 L742.8,101.1 L743.8,82.2 L744.7,73.3 L746,65.4 L746.4,64.3 L746.8,64.3 L747.2,64.4 L747.7,63.7 L748.4,62.1 L748.6,63.2 L748.9,115.6 L749,116.7 L750.2,90.2 L751.2,75.6 L751.3,74.5 L751.7,76.2 L753.1,66.4 L753.7,64.2 L754,63.9 L754.7,64.2 L755.2,63.6 L755.4,64.7 L755.9,111.5 L756.9,89.1 L758.1,73.2 L758.8,68.2 L759.4,66.6 L760.1,65.3 L761,62.5 L761.3,62.3 L761.5,63.4 L762.3,93.8 L763.5,76.4 L764.2,70.9 L764.3,70.3 L764.5,71.4 L765,110.6 L765.1,110.6 L766.2,86.3 L767.1,75.5 L767.9,69.3 L768.1,70.4 L768.7,105.6 L769.7,85.7 L770.9,72.1 L771.6,67.9 L772.7,65.2 L773.5,62.7 L773.8,62.3 L774.5,63.2 L774.7,64.3 L775.1,110.7 L775.2,111 L776.3,86.5 L777.2,75.7 L778.1,68.5 L778.4,69.6 L779.2,90.7 L779.3,91.2 L780.5,74.4 L781.3,68.2 L781.9,66.7 L782,66.5 L782.4,68.1 L783.5,63.5 L783.8,63 L784.2,63.1 L784.7,63.7 L785.1,63.5 L785.9,61.8 L786.1,62.9 L786.6,111.4 L787.7,87.2 L788.7,73.8 L789.4,69.6 L790.4,65.5 L790.6,66.6 L791.2,100.6 L791.6,93.5 L791.8,135.6 L792,142.3 L792.2,143.4 L792.7,143.7 L793,143.5 L793.1,143.5 L793.3,143.3 L793.4,143.4 L793.7,143.2 L793.8,143.4 L794.1,143.4 L794.7,143.5 L795.4,143.8 L795.6,143.6 L796.9,143.9 L797.4,143.8 L797.7,144 L798.6,143.6 L798.9,143.6 L799.1,143.4 L799.4,143.6 L799.7,143.4 L799.9,143.6 L800,143.4 L800.2,143.6 L801,143.4 L801.2,143.6 L801.7,143.2 L801.9,143.1 L802.2,143.4 L802.4,143.3 L802.6,143.3 L803.3,147.1 L803.9,143.5 L804.7,143.9 L805.2,143.5 L805.4,143.5 L805.8,143.4 L805.9,143.6 L806.2,143.6 L806.4,143.8 L807.1,143.4 L807.8,143.7 L808.2,144 L808.6,143.7 L809.1,143.7 L809.6,143.4 L809.9,143.4 L810.3,143.6 L810.7,143.4 L811.1,143.5 L811.6,143.5 L811.9,143.3 L812.1,143.4 L812.5,143.4 L812.7,143.3 L812.9,143.3 L813,143.2 L813.5,143.4 L813.7,143.3 L813.8,143.5 L814.5,143.4 L815,143.7 L815.3,143.4 L815.5,143.6 L815.7,143.6 L816,143.9 L816.1,143.8 L816.5,144 L816.8,143.8 L817,143.8 L817.6,143.4 L818.3,143.5 L818.4,143.4 L818.8,143.6 L819.2,143.5 L819.3,143.7 L819.5,143.6 L819.6,143.7 L820.1,143.5 L820.2,143.6 L820.8,143.5 L821.1,143.5 L821.2,143.4 L821.5,143.4 L821.7,143.4 L821.9,143.3 L822.6,143.6 L822.8,143.4 L823,143.7 L823.7,143.7 L824.3,143.5 L824.4,143.6 L825,143.5 L825.3,143.7 L825.7,143.7 L825.9,143.7 L826.1,143.9 L826.2,143.7 L826.5,143.9" fill="none" stroke="#0072BD" stroke-width="1.05" stroke-opacity="1" stroke-linejoin="round" clip-path="url(#c2)"/>
<path d="M490,38.2 L490.2,38.2 L490.5,138 L490.6,139 L490.7,138.8 L490.8,135.7 L490.9,140.5 L491,139 L491.1,139.4 L491.3,138 L491.4,143.2 L491.5,143.8 L491.6,151 L491.7,152 L491.8,149.9 L491.9,151.6 L492.2,146.6 L492.3,150.8 L492.5,144.4 L492.7,150.8 L493.2,160 L493.3,157.7 L493.4,157.4 L493.6,162.3 L493.8,159.3 L494,160.8 L494.1,163.2 L494.2,160.5 L494.3,161.4 L494.5,189.2 L494.8,189.2 L494.9,173.9 L495.1,172.8 L495.3,175.1 L495.5,175.2 L495.6,171.8 L495.7,173.1 L495.9,172.2 L496,172.2 L496.1,170.4 L496.3,173.9 L496.5,175.8 L496.6,173.6 L496.7,173.7 L496.9,169 L497.2,156.9 L497.3,162.1 L497.5,155.1 L498.2,169.1 L498.8,149.6 L499,146.3 L499.1,140 L499.2,139.4 L499.4,142.2 L499.5,142.4 L499.7,141.3 L499.9,148.1 L500.1,149.1 L500.2,189.2 L500.5,189.2 L500.6,148.4 L500.7,152.1 L500.8,147 L500.9,150.4 L501.1,144.6 L501.3,145.3 L501.5,138.8 L501.6,143.6 L501.7,143.5 L501.9,142.1 L502,138.6 L502.3,140.7 L502.5,130.3 L502.7,133.3 L502.8,131 L503,189.2 L503.2,189.2 L503.3,121.3 L503.4,121.4 L503.5,121.2 L503.9,113.5 L504,116.5 L504.1,113.2 L504.2,112.7 L504.3,118 L504.4,117.6 L504.5,121.4 L504.7,120.3 L505,126.3 L505.1,131.9 L505.2,130.9 L505.7,137.9 L505.9,136 L506.1,143.4 L506.3,140.2 L506.7,145.6 L506.9,155.7 L507.1,155.1 L507.4,168.2 L507.5,168.5 L508,184.7 L508.3,163.7 L508.4,162.3 L508.5,152.9 L508.6,152.6 L509,131.2 L509.1,132.2 L509.9,92.9 L510,91.5 L510.7,132.4 L510.8,132.3 L511.1,139.1 L511.3,138.6 L511.5,146.8 L511.6,147 L511.8,150.1 L512.2,162.4 L512.3,189.2 L512.5,189.2 L512.6,177.2 L512.8,184.2 L513.4,171 L513.6,164.8 L513.8,171.7 L513.9,168 L514,171.6 L514.1,171.6 L514.3,176.9 L514.4,175.9 L514.7,167.9 L514.8,169.6 L515,159.5 L515.1,159.7 L515.3,158.7 L515.5,152.7 L515.7,162.3 L515.8,158.3 L516.3,167 L516.4,167.5 L516.7,160.1 L516.8,189.2 L517.1,189.2 L517.2,156.4 L517.4,153.7 L517.7,160.8 L517.8,160.2 L518,164.5 L518.1,161.4 L518.3,167.1 L518.4,165.3 L518.6,173.5 L519.1,164.1 L519.2,166.2 L519.3,163.2 L519.4,164 L519.6,157.4 L519.8,169.9 L519.9,167.9 L520.3,179.3 L520.5,177.6 L520.6,178.2 L520.7,174.6 L520.8,174.3 L520.9,180 L521,172.9 L521.3,175.5 L521.5,172.8 L521.6,172.2 L521.7,172.9 L521.8,189.2 L522.1,189.2 L522.2,178.7 L522.4,184.6 L522.5,180.4 L522.7,184.1 L522.8,184.3 L523,186.2 L523.2,178.4 L523.3,177.9 L523.4,180.6 L524,172.4 L524.1,174.9 L524.2,173.7 L524.3,174.5 L524.4,167.1 L524.6,173.1 L524.7,167.7 L524.8,169.2 L525,167.5 L525.1,169.3 L525.2,165.4 L525.4,169.3 L525.6,160.8 L525.8,162.2 L526,157.8 L526.1,151.7 L526.3,153.4 L526.4,189.2 L526.6,189.2 L526.7,156.5 L526.9,161.5 L527.1,161 L527.2,166.2 L527.4,160.2 L527.5,160.9 L527.9,154.2 L528,146.9 L528.1,147.5 L528.4,140.5 L528.5,142 L528.6,139.3 L528.8,139.3 L529.1,135.6 L529.7,153.3 L529.8,150.9 L530,160.3 L530.5,151 L530.6,156.4 L530.7,148.6 L530.8,149.7 L530.9,147.5 L531,150.8 L531.3,151.9 L531.4,151.2 L531.6,156.8 L531.8,151.6 L532.1,147.3 L532.2,149.5 L532.3,148.7 L532.6,138.9 L532.7,138.8 L532.9,137.2 L533,141.2 L533.1,137.4 L533.2,189.2 L533.4,189.2 L533.5,143.7 L533.6,142.3 L533.8,144.3 L534,141.7 L534.3,153.1 L534.4,150.4 L534.7,155 L534.9,156.1 L535.2,142.6 L535.4,143.1 L535.8,127.7 L536,131 L536.7,154.2 L536.8,189.2 L537.1,189.2 L537.2,155.6 L537.4,166.4 L537.5,162.7 L537.7,167.3 L538.4,147.3 L538.5,139.5 L538.8,138 L539.2,117.5 L539.3,118.5 L539.6,108.6 L539.8,124 L539.9,121.7 L540,129.5 L540.1,128.4 L540.5,146.5 L540.6,143.8 L540.7,147.5 L540.9,145.6 L541,150.6 L541.1,149.1 L541.4,154.4 L541.5,153.7 L541.7,157.6 L541.9,162.9 L542.1,163.1 L542.2,166.3 L542.3,189.2 L542.5,189.2 L542.6,177.5 L542.7,177.8 L542.9,180.4 L543,172.5 L543.3,182.8 L543.4,181.4 L543.7,185.6 L543.8,184.3 L543.9,188.9 L544,189.2 L544.3,182.9 L544.4,183.7 L544.6,180.5 L544.7,182 L545,175.5 L545.1,183.1 L545.2,178.5 L545.4,180.9 L545.5,179.9 L545.6,180.7 L545.7,189.2 L545.9,189.2 L546.2,181.8 L546.3,184.7 L546.4,181.4 L546.5,182.4 L546.6,176 L546.7,179.3 L546.8,173.6 L546.9,179 L547.1,171 L547.2,174.4 L547.4,167 L547.6,167.3 L547.7,168.2 L547.9,167.4 L548,169 L548.1,167.1 L548.4,175.3 L548.5,176.5 L548.7,176.3 L548.8,172.1 L548.9,172.3 L549.2,165.5 L549.4,156.4 L549.6,189.2 L549.8,189.2 L549.9,161.6 L550,162.6 L550.1,161.4 L550.4,168.3 L550.5,168.3 L550.6,169.5 L550.7,163.5 L551.3,157.1 L551.5,153.2 L551.8,161.4 L551.9,161.5 L552.2,166.9 L552.4,169.6 L552.5,168.1 L552.7,178.6 L553,176.5 L553.1,176.8 L553.3,183.4 L553.4,181.7 L553.5,185.3 L553.7,184.8 L553.9,189.2 L554,189.2 L554.2,185.4 L554.3,185.7 L554.7,180.2 L554.8,189.2 L555,189.2 L555.1,178.4 L555.2,177.4 L555.5,182.6 L555.6,180.6 L555.7,182.5 L555.8,180.3 L555.9,180 L556,185.8 L556.4,178.5 L556.5,178.7 L556.6,182.7 L556.8,174.9 L556.9,178.2 L557.1,172.5 L557.2,177.1 L557.3,174.4 L557.4,175.2 L557.5,169.3 L557.6,169.7 L557.7,169.1 L557.9,170.2 L558.1,166.7 L558.2,189.2 L558.4,189.2 L558.5,165.3 L558.7,163.2 L558.9,169.5 L559,165 L559.2,172 L559.6,177.8 L559.8,169.9 L560,163.9 L560.4,157.4 L560.5,154.4 L560.6,157.5 L560.7,157.9 L560.9,154.1 L561.2,160.5 L561.3,157.2 L561.4,159.3 L561.5,157.9 L561.6,159.6 L561.7,151.1 L562,154.2 L562.1,154.4 L562.2,146.5 L562.3,189.2 L562.5,189.2 L562.6,151.3 L562.7,149.9 L562.9,149.9 L563,150.7 L563.4,138.7 L563.5,131.4 L563.7,132.1 L563.8,126.5 L563.9,126.7 L564,125.4 L564.8,148.8 L565,143.8 L565.1,144.5 L565.2,137.4 L565.4,138.7 L565.5,136.5 L565.6,138.2 L565.7,137.9 L565.8,138 L565.9,138.8 L566,138.4 L566.2,144 L566.3,137.4 L566.7,149.9 L566.8,189.2 L567.1,189.2 L567.2,158.8 L567.3,159.2 L567.4,163.4 L567.6,153.9 L567.7,153.5 L567.9,148 L568,147.5 L568.1,149.2 L568.2,142.7 L568.3,147.6 L568.4,183.4 L568.9,171.7 L569.1,189.2 L569.3,169.8 L569.6,175.8 L569.8,169.7 L570,175.6 L570.2,165.2 L570.5,189.2 L570.7,158.1 L570.9,164.8 L571.2,185.8 L571.4,171.1 L571.6,173.6 L571.8,189.2 L572.1,171.8 L572.3,185.6 L572.5,181.7 L572.7,185.8 L573,183.8 L573.2,178 L573.4,177.7 L573.7,189.2 L573.9,181.9 L574.1,189.2 L574.3,189.2 L574.7,175.8 L574.8,168.8 L575,171.4 L575.2,185.8 L575.7,188.4 L576.2,167.9 L576.4,178.6 L576.6,170.7 L576.8,175.1 L577.1,161.2 L577.3,185 L578.4,177.5 L579.6,173.2 L580.7,170.7 L582,169.1 L583.5,168 L585.9,167.4 L591.8,166.8 L605.8,166.1 L605.9,38.2 L607.2,38.2 L607.3,52.5 L607.4,39.2 L607.5,38.2 L609.9,38.2 L610,189.2 L610.7,189.2 L610.8,38.2 L611.5,38.2 L611.6,77 L612.6,60.9 L612.8,189.2 L613.2,189.2 L613.3,62.5 L614.1,67.2 L615.5,88.3 L616.1,85.5 L616.2,189.2 L617,189.2 L617.1,78.9 L618.6,61 L619.5,47.5 L619.6,189.2 L620.3,189.2 L620.4,48.8 L620.5,49.3 L620.6,38.2 L622.6,38.2 L622.8,189.2 L623.7,189.2 L623.8,38.2 L626.2,38.2 L626.3,39.6 L626.4,52.8 L626.5,38.2 L628.6,38.2 L628.7,189.2 L629.5,189.2 L629.6,38.2 L630.5,38.2 L630.6,72.2 L632,86.1 L633.1,91.8 L633.2,189.2 L633.6,189.2 L633.7,89.6 L634.6,84 L635.9,58 L636.5,56.8 L636.6,189.2 L636.9,189.2 L637,55.9 L637.3,55.2 L637.4,58.4 L637.5,38.2 L640.2,38.2 L640.3,189.2 L641.1,189.2 L641.2,38.2 L643.9,38.2 L644,60.3 L644.1,57.3 L645.5,97.3 L646.1,95 L646.2,189.2 L646.9,189.2 L647,91.2 L647.8,86.7 L647.9,38.2 L652.2,38.2 L652.3,189.2 L652.9,189.2 L653,38.2 L654.9,38.2 L655,87.8 L655.4,83 L655.5,189.2 L656,189.2 L656.1,73.3 L656.5,68 L657.8,62.6 L658.8,67.8 L658.9,189.2 L659.8,189.2 L659.9,80.5 L660.5,88.3 L661.1,82 L661.2,38.2 L662.7,38.2 L662.8,189.2 L663,189.2 L663.1,38.2 L665.4,38.2 L665.5,189.2 L666.1,189.2 L666.2,92 L667.3,70.5 L668.7,65.4 L669.3,67.6 L669.4,189.2 L670.4,189.2 L670.5,47.1 L670.7,38.7 L670.8,38.2 L671.4,38.2 L671.9,44 L672.1,38.2 L676.8,38.2 L676.9,189.2 L677.7,189.2 L677.8,38.2 L679.9,38.2 L680.1,38.7 L680.2,38.2 L681.1,38.2 L681.2,74.3 L682.3,48.3 L682.9,50.3 L683,189.2 L683.7,189.2 L683.8,53.5 L685.1,56.1 L686.4,64.5 L687.8,82.1 L688.6,63.1 L688.7,189.2 L689.4,189.2 L689.5,38.2 L692.2,38.2 L692.3,189.2 L693.1,189.2 L693.2,38.2 L695.1,38.2 L695.3,189.2 L695.7,189.2 L695.9,47.1 L696,44 L697.3,80.5 L697.9,71.4 L698,189.2 L698.2,189.2 L698.4,64.2 L699.3,52.4 L700.1,43.5 L701.4,46.6 L701.5,38.2 L701.6,38.2 L701.9,57.8 L702.2,44.3 L702.3,189.2 L702.7,189.2 L702.8,38.2 L705.3,38.2 L705.5,55.8 L705.7,39.3 L705.9,38.2 L706,189.2 L706.6,189.2 L706.8,38.2 L707.6,38.2 L708,59 L708.2,71.8 L709,38.2 L712.1,38.2 L712.3,45.9 L712.4,52.2 L712.6,189.2 L712.9,189.2 L713,53.8 L713.8,55.9 L715.1,61.2 L716.4,86.2 L717.8,44.6 L718.8,57.3 L718.9,189.2 L719.9,189.2 L720.1,83.3 L720.5,94.2 L722,81.1 L722.1,80.7 L722.2,38.2 L722.9,38.2 L723,189.2 L723.2,189.2 L723.4,38.2 L725.4,38.2 L725.5,189.2 L726.1,189.2 L726.2,38.2 L727,38.2 L727.1,38.5 L727.3,55.5 L728.2,69.9 L728.5,38.2 L728.8,38.2 L728.9,189.2 L729.7,189.2 L729.8,38.2 L730,38.2 L731,62.5 L731.3,38.2 L731.5,38.2 L731.7,189.2 L732.7,189.2 L732.8,67.4 L734.3,64.5 L735.5,63.4 L736.9,45.6 L738.1,85.7 L738.2,189.2 L738.8,189.2 L738.9,38.2 L739.8,38.2 L740.1,70.8 L740.6,38.2 L742.2,38.2 L742.3,189.2 L742.8,189.2 L742.9,38.2 L743,38.3 L743.7,61 L743.9,38.2 L744.5,38.2 L744.6,189.2 L745.2,189.2 L745.3,38.2 L746.2,38.2 L746.3,40.3 L746.4,58.2 L746.5,46 L747.8,52.5 L748.6,51.6 L748.7,189.2 L749,189.2 L749.2,50.9 L750.5,70.9 L751.9,71.3 L753.3,75.7 L754.5,75 L754.6,38.2 L755.4,38.2 L755.5,189.2 L755.9,189.2 L756,38.2 L757.3,38.2 L757.5,38.8 L758.3,62.7 L758.5,38.2 L759.4,38.2 L759.5,87.9 L760.1,82.1 L761.4,93.5 L761.5,93 L761.7,189.2 L762.3,189.2 L762.5,88.8 L762.8,87.3 L764.2,62.4 L764.5,63.7 L764.6,189.2 L765.1,189.2 L765.2,66.4 L765.5,67.7 L766.7,88.4 L766.8,38.2 L768.1,38.2 L768.3,189.2 L768.7,189.2 L768.8,38.2 L769.8,38.2 L770.1,48.6 L770.3,38.2 L770.6,38.2 L770.8,189.2 L771.3,189.2 L771.4,38.2 L773,38.2 L773.1,82.5 L773.7,85.8 L774.7,61.1 L774.8,189.2 L775.2,189.2 L775.3,53.9 L776.4,59.2 L777.8,93.5 L778.4,80 L778.5,189.2 L779.3,189.2 L779.4,63.2 L780.5,73.2 L781.9,100.4 L782.5,78.4 L782.6,38.2 L783.6,38.2 L783.7,38.3 L784.4,38.2 L786.1,38.2 L786.2,189.2 L786.6,189.2 L786.7,38.2 L787.5,38.2 L787.7,54 L788.7,77.2 L788.8,75.5 L788.9,189.2 L789.3,189.2 L789.4,67 L790.1,56.8 L790.6,55.5 L790.8,189.2 L791.2,189.2 L791.3,54 L791.4,53.7 L791.6,54.2 L791.7,139.2 L792.1,139.2 L792.4,145.5 L792.5,146 L792.8,160 L792.9,154.5 L793.1,163.2 L793.4,160.1 L793.5,162 L793.6,154 L793.8,162 L793.9,161.9 L794.2,172.1 L794.3,164.9 L794.4,165.8 L794.5,163.9 L794.6,168.3 L794.7,162.8 L794.9,169.1 L795.1,161.2 L795.4,169.5 L795.5,168.7 L795.6,169.2 L795.8,167.8 L795.9,170.6 L796,167.7 L796.2,180.9 L796.3,171.9 L796.6,172.2 L796.7,176.6 L796.8,172.1 L796.9,172.2 L797,163.5 L797.4,170.1 L797.6,162.8 L797.8,160.8 L797.9,163 L798.3,155.9 L798.6,162.2 L798.7,162.5 L798.8,166.6 L798.9,167 L799.1,172.3 L799.4,178.5 L799.6,172.3 L799.7,180.4 L800,173.3 L800.2,182.7 L800.3,182.4 L800.4,187.4 L800.5,177.2 L800.7,180.9 L800.9,173.9 L801,175.4 L801.1,173.3 L801.2,174.4 L801.4,172.3 L801.6,177.3 L801.7,173.1 L801.8,174.3 L801.9,173.2 L802,176.3 L802.1,174.1 L802.2,180.3 L802.4,177.8 L802.5,177.4 L802.7,186.2 L802.8,186.2 L802.9,186.5 L803,186.2 L803.2,189.2 L803.3,189.2 L803.4,188.8 L803.5,189.2 L803.6,189.2 L803.7,187.2 L803.9,189.2 L804.2,187.9 L804.3,189.2 L804.6,189.2 L804.7,186.7 L804.9,40.6 L805,36.7 L805.1,184.1 L805.2,183.7 L805.3,188 L805.4,182.5 L805.5,186.9 L805.7,180.6 L805.8,189.2 L805.9,188.5 L806,188.7 L806.1,188.7 L806.2,187.1 L806.3,188.8 L806.4,182 L806.6,185.9 L806.7,185.4 L806.8,185.6 L806.9,181.5 L807,181.5 L807.1,176.8 L807.2,177.4 L807.4,172.1 L807.5,175.5 L807.6,175.7 L807.8,167.8 L808,172.9 L808.4,167.4 L808.5,167.5 L808.7,178.4 L808.8,169.2 L808.9,175.8 L809.1,176.4 L809.3,174.1 L809.4,173.7 L809.6,175.1 L809.7,173.4 L809.9,173.6 L810,175 L810.1,168.8 L810.2,168.5 L810.3,166.1 L810.4,168.9 L810.7,159.1 L810.8,160.1 L810.9,156.3 L811,159.8 L811.1,153.6 L811.2,155.3 L811.3,155.5 L811.4,157.5 L811.6,155.7 L811.8,160.4 L811.9,158.6 L812.1,157.6 L812.4,166.1 L812.6,161 L812.7,163.6 L812.8,161.4 L812.9,161 L813.2,171.5 L813.3,167.3 L813.6,173.2 L813.7,169.9 L813.8,173 L814.1,174 L814.2,170.6 L814.3,177.1 L814.4,173.7 L814.5,173.2 L814.6,174.4 L814.7,170.5 L814.9,173.1 L815.1,169 L815.3,159.8 L815.4,162.8 L815.5,156.5 L815.7,158 L815.9,142.2 L816,135.6 L816.1,138.9 L816.5,122.5 L817.1,156 L817.2,152.6 L817.5,158.1 L817.7,161.3 L817.9,157.7 L818,157.7 L818.2,158.8 L818.3,155.8 L818.4,156.5 L818.6,148.5 L818.7,148.6 L818.8,145.7 L819,149.5 L819.1,145.6 L819.2,151.2 L819.3,150 L819.5,138 L819.6,138.6 L820,154.4 L820.1,152.8 L820.3,161.6 L820.4,157 L820.7,165.9 L820.8,164.8 L820.9,168.7 L821,164.6 L821.2,169.1 L821.6,175.3 L822,169.7 L822.1,164.8 L822.2,164.9 L822.5,158.6 L822.7,155.3 L822.8,159.7 L823,156.9 L823.2,163.1 L823.3,163.9 L823.6,161.6 L823.7,163.4 L824.1,156.7 L824.2,158.4 L824.3,155.7 L824.4,161.1 L824.5,154.2 L824.6,155.4 L824.7,150.2 L825,158.7 L825.1,160 L825.2,156.5 L825.3,159.7 L825.4,159.5 L825.5,162 L825.8,161.1 L825.9,156 L826,158.8 L826.1,150.6 L826.3,157.8 L826.5,148.9" fill="none" stroke="#D95319" stroke-width="1.05" stroke-opacity="1" stroke-linejoin="round" clip-path="url(#c2)"/>
<path d="M41.8,418.5 L41.9,418.5 L42,404.3 L42.1,404.3 L42.3,407.1 L42.4,407.3 L42.5,409.1 L42.6,409.1 L42.8,407.3 L42.9,407.4 L43,407.1 L43.2,408.3 L43.3,408.4 L43.4,410 L43.5,410.2 L43.6,409.7 L43.7,410.2 L44,409 L44.1,410 L44.3,408.5 L44.5,410 L45,412 L45.1,411.5 L45.2,411.5 L45.4,412.5 L45.5,411.9 L45.8,412.2 L45.9,412.7 L46,412.2 L46.1,412.3 L46.3,418.5 L46.6,418.5 L46.7,415.1 L46.9,414.9 L47.1,415.4 L47.3,415.4 L47.4,414.6 L47.5,414.9 L47.8,414.7 L47.9,414.3 L48,415.1 L48.3,415.5 L48.4,415 L48.6,414.9 L48.8,413.4 L49,411.3 L49.1,412.4 L49.3,410.9 L50,414 L50.5,409.7 L50.8,408.9 L50.9,407.6 L51,407.4 L51.3,408.1 L51.5,407.9 L51.7,409.4 L51.9,409.6 L52,418.5 L52.3,418.5 L52.4,409.5 L52.5,410.3 L52.6,409.2 L52.7,409.9 L52.9,408.6 L53,408.8 L53.3,407.4 L53.4,408.4 L53.7,408 L53.8,407.2 L54.1,407.7 L54.3,405.4 L54.5,406 L54.6,405.5 L54.8,418.5 L55,418.5 L55.1,403.4 L55.3,403.3 L55.7,401.6 L55.8,402.3 L55.9,401.6 L56,401.5 L56.1,402.7 L56.2,402.6 L56.3,403.4 L56.5,403.2 L56.8,404.4 L56.9,405.7 L57,405.5 L57.5,407 L57.7,406.6 L57.9,408.2 L58,407.5 L58.5,408.7 L58.7,411 L58.8,410.8 L59.2,413.8 L59.3,413.9 L59.7,417.5 L60.1,412.8 L60.2,412.5 L60.3,410.4 L60.4,410.4 L60.8,405.6 L60.9,405.9 L61.7,397.1 L61.8,396.8 L62.5,405.8 L62.6,405.8 L62.9,407.3 L63,407.2 L63.3,409 L63.5,409.4 L64,412.5 L64.1,418.5 L64.3,418.5 L64.4,415.8 L64.6,417.4 L65.4,413.1 L65.5,414.6 L65.7,413.8 L65.8,414.6 L65.9,414.6 L66.1,415.7 L66.2,415.5 L66.5,413.7 L66.6,414.1 L66.8,411.8 L67,411.8 L67.1,411.6 L67.2,410.3 L67.5,412.5 L67.6,411.6 L68,413.5 L68.2,413.7 L68.5,412 L68.6,418.5 L68.8,418.5 L69,411.2 L69.2,410.6 L69.5,412.2 L69.6,412 L69.7,413 L69.9,412.3 L70.1,413.6 L70.2,413.2 L70.4,415 L70.9,412.9 L71,413.4 L71.1,412.7 L71.2,412.9 L71.3,411.4 L71.6,414.2 L71.7,413.7 L72.1,416.3 L72.2,415.9 L72.4,416 L72.5,415.2 L72.6,415.2 L72.7,416.4 L72.8,414.9 L73,415.4 L73.3,414.8 L73.4,414.7 L73.5,414.9 L73.6,418.5 L73.8,418.5 L73.9,416.1 L74.2,417.5 L74.3,416.6 L74.5,417.4 L74.6,417.4 L74.7,417.8 L75,416.1 L75.1,416 L75.2,416.6 L75.8,414.8 L75.9,415.3 L76,415.1 L76.1,415.2 L76.2,413.6 L76.3,414.9 L76.4,413.7 L76.6,414 L76.8,413.7 L76.9,414 L77,413.2 L77.1,414.1 L77.4,412.2 L77.6,412.5 L77.8,411.5 L77.9,410.2 L78,410.6 L78.2,418.5 L78.4,418.5 L78.5,411.2 L78.7,412.3 L78.8,412.2 L78.9,413.4 L79.2,412 L79.3,412.2 L79.6,410.7 L79.7,409.1 L79.9,409.2 L80.2,407.6 L80.3,408 L80.4,407.3 L80.8,406.8 L80.9,406.5 L81.4,410.6 L81.6,410 L81.8,412.1 L82.2,410 L82.4,411.2 L82.5,409.5 L82.6,409.7 L82.7,409.2 L82.8,410 L83,410.2 L83.2,410.1 L83.4,411.3 L83.5,410.4 L83.7,409.9 L83.8,409.2 L83.9,409.7 L84.4,407.3 L84.6,406.9 L84.7,407.8 L84.9,407 L85,418.5 L85.2,418.5 L85.3,408.4 L85.4,408.1 L85.5,408.5 L85.8,407.9 L86.1,410.4 L86.2,409.8 L86.4,410.8 L86.7,411.1 L87,408.1 L87.1,408.2 L87.6,404.8 L87.8,405.5 L88.5,410.6 L88.6,418.5 L88.8,418.5 L88.9,411 L89.2,413.4 L89.3,412.6 L89.5,413.6 L90.2,409.2 L90.3,407.4 L90.5,407.1 L91,402.5 L91.1,402.7 L91.3,400.5 L91.6,404 L91.7,403.4 L91.8,405.1 L91.9,404.9 L92.2,408.9 L92.4,408.3 L92.5,409.2 L92.7,408.7 L92.8,409.8 L92.9,409.5 L93.1,410.7 L93.3,410.6 L93.5,411.5 L93.7,412.6 L93.8,412.7 L93.9,413.4 L94.1,418.5 L94.3,418.5 L94.4,415.9 L94.5,415.9 L94.6,416.5 L94.7,414.8 L95.1,417.1 L95.2,416.8 L95.4,417.7 L95.5,417.4 L95.6,418.4 L95.8,418.5 L96.1,417.1 L96.2,417.3 L96.3,416.5 L96.4,416.9 L96.8,415.4 L96.9,417.1 L97,416.1 L97.1,416.6 L97.2,416.4 L97.4,416.6 L97.5,418.5 L97.7,418.5 L97.9,416.8 L98,417.5 L98.1,416.8 L98.3,417 L98.4,415.5 L98.5,416.3 L98.6,415 L98.7,416.2 L98.8,414.4 L98.9,415.2 L99.2,413.6 L99.4,413.6 L99.5,413.8 L99.6,413.7 L99.7,414 L99.8,413.6 L100.2,415.4 L100.3,415.7 L100.4,415.6 L100.5,414.7 L100.6,414.7 L101,413.2 L101.2,411.2 L101.3,418.5 L101.6,418.5 L101.7,412.4 L101.8,412.6 L101.9,412.4 L102.1,413.9 L102.2,413.8 L102.3,414.1 L102.5,412.8 L103,411.3 L103.3,410.5 L103.6,412.3 L103.7,412.3 L103.9,413.5 L104.2,414.1 L104.3,413.8 L104.5,416.1 L104.7,415.7 L105,416.2 L105.1,417.2 L105.2,416.8 L105.3,417.6 L105.4,417.5 L105.6,418.5 L105.8,418.5 L106,417.7 L106.1,417.7 L106.4,416.5 L106.6,418.5 L106.8,418.5 L106.9,416.1 L107,415.9 L107.2,417 L107.3,416.6 L107.5,417 L107.6,416.5 L107.7,416.5 L107.8,417.7 L108.1,416.1 L108.3,416.2 L108.4,417.1 L108.6,415.3 L108.7,416 L108.8,414.8 L108.9,415.8 L109.1,415.2 L109.2,415.4 L109.3,414.1 L109.4,414.1 L109.5,414 L109.6,414.3 L109.8,413.5 L110,418.5 L110.2,418.5 L110.3,413.2 L110.4,412.7 L110.6,414.1 L110.8,413.1 L111,414.7 L111.3,416 L111.6,414.2 L111.9,412.7 L112.2,410.7 L112.3,411.4 L112.5,411.5 L112.7,410.6 L112.9,412 L113,411.3 L113.1,411.8 L113.3,411.5 L113.4,411.9 L113.5,410 L113.8,410.7 L113.9,408.9 L114,418.5 L114.3,418.5 L114.4,410 L114.5,409.7 L114.7,409.9 L115.2,407.1 L115.3,405.5 L115.4,405.7 L115.5,404.5 L115.6,404.5 L115.8,404.3 L116.5,409.4 L116.8,408.3 L116.9,408.5 L117,406.9 L117.1,407.2 L117.2,406.7 L117.3,407.1 L117.6,407.1 L117.7,407.2 L117.8,407.2 L117.9,408.4 L118,407 L118.5,409.8 L118.6,418.5 L118.8,418.5 L118.9,411.7 L119,411.8 L119.2,412.8 L119.4,410.6 L119.5,410.6 L119.6,409.3 L119.7,409.2 L119.8,409.6 L120,408.2 L120.1,409.3 L120.2,417.2 L120.6,414.6 L120.9,418.5 L121.1,414.2 L121.3,415.5 L121.5,414.2 L121.8,415.6 L122,413.5 L122.2,418.5 L122.5,412.3 L122.7,413.8 L122.9,417.9 L123.1,415.2 L123.4,415.7 L123.6,418.5 L123.8,415.6 L124,417.9 L124.3,417.3 L124.4,409.1 L125.1,409.1 L125.2,416.9 L125.4,418.5 L125.6,417.5 L125.9,418.5 L126.1,418.5 L126.5,416.2 L126.8,416.6 L127,418.2 L127.5,418.4 L127.9,416.7 L128.1,417.7 L128.4,417.2 L128.6,417.5 L128.8,416.7 L129,418.3 L130.2,418.1 L132,418.5 L157.6,418.4 L157.7,366.7 L158.4,357.9 L159,366 L159.7,365.2 L160.2,358 L160.5,349.7 L161.1,345.9 L161.5,338.9 L161.6,338.4 L161.8,402.5 L162.4,403.4 L162.6,342 L163.1,337.7 L163.8,344.4 L164.5,333.1 L165.2,335.5 L165.5,335.7 L165.9,336.4 L166.6,330 L167.3,322.2 L167.6,320.9 L167.8,320.8 L167.9,344.1 L168.7,363.5 L168.8,346.7 L169.4,339.8 L169.9,329.5 L170.3,330.1 L170.6,331.5 L171.1,327.9 L171.2,327.5 L171.4,355.6 L171.9,373.4 L172,374 L172.1,360.4 L172.8,345.7 L173.5,341.1 L173.9,340 L174,339.9 L174.1,340 L174.4,342.4 L174.5,404.3 L174.9,407.2 L175.4,406 L175.5,357.9 L176.1,367 L177.3,352.2 L178.1,332.5 L178.3,334 L178.8,332.6 L179.5,341.6 L180.1,339.6 L180.2,339.9 L180.3,339.9 L180.4,359.5 L181.1,372.3 L181.2,372.4 L181.4,353.3 L181.6,349.4 L182.2,346.7 L183,331.2 L183.6,325.9 L184.4,329.6 L184.6,330 L184.8,331.9 L184.9,356.4 L185.2,364.8 L185.3,364.1 L185.4,346.1 L185.6,341 L186.1,342.8 L186.3,344.4 L187,331.7 L187.7,341 L188.7,331.5 L189.1,327.1 L189.7,324.3 L190.4,329.6 L190.7,329.5 L191.1,329.6 L191.8,324.8 L191.9,325.2 L192,348.4 L192.7,364.2 L192.8,364.5 L192.9,347.5 L193.8,334.3 L194.5,343.9 L195.4,332.8 L196,325.7 L196.5,322.8 L197.1,322.5 L197.2,322.4 L197.8,329.1 L197.9,351.7 L198.6,358.3 L198.7,340.6 L199.2,338.2 L199.9,342.2 L200.6,327.8 L202,340.3 L202.7,334.9 L203.1,334.4 L203.3,334.5 L203.9,338.2 L204,361.5 L204.4,372.8 L204.6,370.9 L204.7,355.5 L205,358.1 L205.4,355.9 L206.4,341.2 L207,335.3 L207.1,334.7 L207.2,402.4 L207.7,405.7 L207.8,353.2 L208.9,344.8 L209.6,338.5 L210.2,337.1 L210.5,333.2 L210.6,354.3 L211.3,370.7 L211.5,370.3 L211.6,358.1 L212,362.5 L212.2,362.1 L212.9,355.1 L213.6,334.5 L214,333.7 L214.2,333.6 L214.9,324.3 L215.6,333.8 L216.3,336.3 L217,322.4 L217.1,325.5 L217.2,401.4 L217.7,406.9 L217.8,406.8 L217.9,356.5 L218.4,341.7 L219.7,329.5 L220.7,334.5 L220.9,336.8 L221.1,358.2 L221.9,377.9 L222.1,376.4 L222.2,363.6 L222.5,359.3 L223.1,343.6 L223.3,343.7 L223.4,344.1 L223.8,350.4 L224.5,340.2 L224.9,341.1 L225.2,342.1 L225.9,328.5 L226.5,325 L227.2,333.7 L227.9,328 L228.4,333.2 L228.6,355.7 L229.4,376.4 L229.5,364.2 L230,357.1 L231.3,332.6 L232.5,327.8 L232.6,327.6 L233.3,332.5 L234.4,328.5 L234.6,328.7 L234.8,358.3 L235.3,377 L235.4,377.8 L235.5,364.8 L235.9,355.7 L236.2,351.5 L236.5,350.6 L236.7,350.6 L237.4,342.3 L237.6,342.2 L238.1,343.2 L239.5,326.3 L240.1,331.8 L240.3,331.8 L240.4,352.4 L240.9,360.7 L241.1,360.8 L241.2,343.1 L242.3,327.6 L242.9,325.8 L243.9,333.7 L244,355 L244.3,361.5 L244.8,366.9 L244.9,349.3 L245.5,345 L246.1,337 L246.3,333.5 L246.7,339.5 L246.8,341.8 L247,363.8 L247.3,374.1 L247.4,374.2 L247.5,359.7 L248.4,341.5 L249,337.7 L249.3,337.6 L249.7,337.9 L250.4,334.3 L250.8,333.7 L251.1,333.7 L251.7,324.7 L252.4,337.4 L253.1,334.3 L253.8,326.2 L253.9,328.2 L254.1,356.7 L254.3,364.3 L254.5,349.2 L255.1,335.8 L255.5,335.3 L255.8,335.5 L256.5,326.4 L257.2,324.8 L257.5,330.1 L257.8,359.8 L258.2,376.5 L258.3,376.6 L258.4,363.4 L259.3,352.5 L260,340.6 L260.7,335.3 L261.4,328.5 L262.6,324.3 L263,324.5 L263.9,327 L264.1,328.7 L264.3,363.9 L264.6,373.4 L264.7,359.1 L265.4,352.4 L266.2,335.8 L266.7,331.1 L267.4,339.1 L267.8,337 L268.1,337.2 L268.8,330.6 L269.5,334.8 L270.5,325.5 L270.6,348.4 L271.4,374.7 L271.5,375.7 L271.6,375.2 L271.7,362.3 L272.1,359.4 L272.9,346.9 L273.4,343.9 L274.3,338.7 L274.9,334.2 L275.6,340.4 L276.3,338 L277,324.5 L277.1,327 L277.2,402.1 L277.6,407.9 L277.7,407.9 L277.9,365.2 L278.2,364 L279.8,335 L280.2,332.3 L280.5,334.1 L280.7,361 L281,373 L281.2,373.9 L281.4,373 L281.5,359.6 L281.7,358.4 L281.8,359.4 L282.4,355.6 L283.1,340.4 L283.2,342.8 L283.4,367.3 L283.8,378.1 L284.3,376.7 L284.4,364.5 L284.9,364.5 L285.9,349.5 L286.4,348.1 L286.5,347.9 L287.2,329 L287.9,335.7 L288.5,329.9 L289.2,338.6 L289.8,332 L289.9,401.9 L290.5,406.2 L290.6,355.3 L291,353.1 L291.3,352.8 L292.2,336 L293.1,327.3 L293.3,325.9 L293.7,326.4 L293.9,327.9 L294.1,357.1 L294.4,367 L294.6,350.5 L295.2,342.7 L296,334.7 L296.7,336.2 L297.4,332.1 L297.7,332.2 L298.1,332.7 L298.8,327.4 L299.4,331.1 L300,327.9 L300.1,327.9 L300.2,327.2 L300.5,365.8 L300.6,371.3 L300.7,370.8 L300.8,356.7 L300.9,357.2 L302.5,340.9 L303.1,336.8 L303.3,336.1 L303.8,331.8 L304.4,327.2 L304.9,323.2 L305.6,333.1 L306.8,328.1 L307.1,327.8 L307.2,402 L307.5,406.4 L307.6,357.5 L308.3,350.2 L308.8,348.4 L309,348.1 L309.7,332.9 L310.4,340 L311.6,322.9 L311.7,321.1 L312.4,321.5 L312.8,320.7 L313,320.6 L313.1,321 L313.2,323.7 L313.3,349 L313.9,368.3 L314,369.8 L314.1,355.2 L314.6,351.8 L315.1,345.8 L315.9,328.8 L316.1,328.4 L316.3,401.9 L316.6,405.9 L316.7,405.9 L316.8,354.7 L317.3,347.4 L317.6,346.3 L317.8,346.4 L318.6,334.1 L319.2,329.5 L319.8,340.3 L319.9,404.3 L320.3,407 L320.5,357.8 L321.3,342.1 L321.6,341.5 L321.9,341.7 L322.6,335 L323.3,341.6 L324,337.4 L324.7,336.7 L326,320.6 L326.4,324.7 L326.6,364.6 L326.7,372.8 L326.8,372.9 L326.9,359.7 L327.6,350.4 L328.3,346.7 L328.8,345.9 L329.5,334.7 L329.8,333.5 L330,334.2 L330.1,354.4 L330.9,366.9 L331,351.8 L331.5,350.2 L332.2,329.2 L332.5,329.6 L332.8,330.7 L333.2,330.3 L333.5,330.3 L333.6,330.2 L334,331.2 L335.1,327.6 L335.5,327.2 L336.3,326.4 L336.9,333.7 L337.5,334.6 L337.6,335.3 L337.7,334.3 L338,364.5 L338.2,373.8 L338.4,357.6 L339.1,345.2 L339.5,343.7 L339.7,343.6 L340.3,336 L341,342 L341.7,331.7 L342,332.6 L342.3,334.7 L342.4,357.8 L342.7,367.4 L342.8,368 L343,350.7 L343.1,347.7 L343.2,347.9 L343.3,402.5 L343.5,406.6 L343.9,408 L344.3,410.6 L344.4,412 L344.5,410.7 L344.8,412.7 L345,412 L345.1,412.4 L345.2,410.6 L345.5,412.4 L345.6,412.4 L345.8,414.7 L345.9,413.1 L346,413.3 L346.1,412.8 L346.2,413.8 L346.4,412.6 L346.5,414 L346.7,412.3 L347,414.1 L347.2,413.9 L347.3,414 L347.4,413.7 L347.5,414.4 L347.6,413.7 L347.8,416.7 L348,414.7 L348.2,414.7 L348.3,415.7 L348.4,414.7 L348.5,414.7 L348.6,412.8 L349,414.3 L349.2,412.7 L349.4,412.2 L349.5,412.7 L349.9,411.1 L350.2,412.5 L350.3,412.5 L350.5,413.5 L350.6,413.5 L350.9,415.9 L351,416.1 L351.2,414.7 L351.4,416.5 L351.6,414.9 L351.8,417.1 L351.9,417 L352,418.1 L352.2,415.8 L352.3,416.6 L352.5,415.1 L352.6,415.4 L352.7,414.9 L352.8,415.2 L353.1,414.7 L353.2,415.8 L353.3,414.9 L353.4,415.2 L353.5,414.9 L353.6,415.6 L353.7,415.1 L353.9,416.5 L354,415.9 L354.1,415.8 L354.3,417.8 L354.7,417.9 L354.8,418.5 L355,418.4 L355.2,418.5 L355.3,418.1 L355.6,418.5 L355.8,418.2 L355.9,418.5 L356.2,418.5 L356.4,417.9 L356.5,385.5 L356.6,384.5 L356.7,417.4 L356.8,417.3 L356.9,418.2 L357,417 L357.2,418 L357.3,416.6 L357.4,418.5 L357.5,418.3 L357.7,418.4 L357.8,418 L357.9,418.4 L358.1,416.9 L358.2,417.8 L358.4,417.7 L358.5,416.8 L358.6,416.8 L358.7,415.7 L358.9,415.8 L359,414.7 L359.1,415.4 L359.2,415.5 L359.4,413.7 L359.7,414.9 L360,413.7 L360.1,413.7 L360.3,416.1 L360.4,414 L360.6,415.5 L360.7,415.6 L361,415 L361.2,415.3 L361.4,415 L361.6,415.3 L361.7,413.9 L361.8,413.9 L361.9,413.3 L362,414 L362.3,411.8 L362.4,412 L362.5,411.2 L362.6,411.9 L362.7,410.6 L363.1,411.4 L363.2,411 L363.4,412 L363.5,411.6 L363.7,411.4 L364,413.3 L364.2,412.2 L364.3,412.8 L364.5,412.2 L364.8,414.5 L364.9,413.6 L365.2,414.9 L365.3,414.2 L365.4,414.9 L365.7,415.1 L365.8,414.3 L365.9,415.8 L366,415 L366.1,414.9 L366.2,415.2 L366.4,414.3 L366.5,414.9 L366.7,414 L366.9,411.9 L367,412.6 L367.2,411.2 L367.3,411.5 L367.5,408.1 L367.6,406.6 L367.7,407.3 L368.1,403.8 L368.7,411.1 L368.9,410.3 L369.1,411.5 L369.3,412.3 L369.5,411.5 L369.8,411.7 L369.9,411 L370,411.2 L370.2,409.4 L370.3,409.4 L370.4,408.8 L370.6,409.6 L370.7,408.8 L370.8,410 L370.9,409.8 L371.1,407.1 L371.2,407.3 L371.6,410.7 L371.7,410.4 L371.9,412.3 L372,411.3 L372.3,413.3 L372.4,413 L372.5,413.9 L372.6,413 L372.8,414 L373.2,415.4 L373.6,414.1 L373.7,413 L373.9,413.1 L374.1,411.7 L374.3,410.9 L374.4,411.9 L374.6,411.3 L374.8,412.7 L374.9,412.9 L375.2,412.4 L375.3,412.8 L375.7,411.2 L375.8,411.6 L375.9,411 L376,412.2 L376.1,410.7 L376.2,410.9 L376.4,409.8 L376.6,411.7 L376.7,412 L376.8,411.2 L376.9,411.9 L377,411.9 L377.1,412.4 L377.4,412.3 L377.5,411.1 L377.6,411.8 L377.7,409.9 L377.9,411.5 L378.1,409.6" fill="none" stroke="#0072BD" stroke-width="1.05" stroke-opacity="1" stroke-linejoin="round" clip-path="url(#c3)"/>
<path d="M41.8,418.5 L41.9,418.5 L42,269.9 L42.1,269.9 L42.3,405.1 L42.4,405.3 L42.5,373.2 L42.6,373.2 L42.7,405.7 L42.8,405.3 L42.9,405.4 L43,405.1 L43.2,406.5 L43.3,406.6 L43.4,408.5 L43.5,408.7 L43.6,408.2 L43.7,408.7 L44,407.4 L44.1,408.5 L44.3,406.8 L44.5,408.5 L45,410.9 L45.1,410.3 L45.2,410.2 L45.4,411.5 L45.5,410.7 L45.8,411.1 L45.9,411.7 L46,411 L46.1,411.3 L46.3,418.5 L46.6,418.5 L46.7,414.5 L46.9,414.2 L47.1,414.8 L47.3,414.9 L47.4,414 L47.5,414.3 L47.8,414.1 L47.9,413.6 L48,414.5 L48.3,415 L48.4,414.4 L48.5,414.4 L48.8,412.5 L49,410 L49.1,411.3 L49.3,409.5 L50,413.2 L50.5,408.2 L50.8,407.3 L50.9,405.6 L51,405.5 L51.2,406.2 L51.3,406.3 L51.5,406 L51.7,407.8 L51.9,408 L52,418.5 L52.3,418.5 L52.4,407.9 L52.5,408.8 L52.6,407.5 L52.7,408.4 L52.9,406.9 L53,407.1 L53.3,405.4 L53.4,406.6 L53.6,406.4 L53.8,405.2 L54.1,405.8 L54.3,403.1 L54.5,403.8 L54.6,403.3 L54.8,418.5 L55,418.5 L55.1,400.7 L55.3,400.7 L55.7,398.6 L55.8,399.4 L55.9,398.6 L56,398.5 L56.1,399.9 L56.2,399.7 L56.3,400.8 L56.5,400.5 L56.8,402 L56.9,403.4 L57,403.2 L57.5,405 L57.7,404.5 L57.9,406.4 L58,405.6 L58.5,407 L58.7,409.6 L58.8,409.5 L59.2,413 L59.3,413 L59.7,417.3 L60.1,411.8 L60.2,411.4 L60.3,409 L60.4,408.9 L60.8,403.3 L60.9,403.6 L61.7,393.3 L61.8,392.9 L62.5,403.5 L62.6,403.5 L62.9,405.3 L63,405.2 L63.3,407.3 L63.5,407.7 L64,411.4 L64.1,418.5 L64.3,418.5 L64.4,415.3 L64.6,417.2 L65.4,412.1 L65.5,413.9 L65.7,412.9 L65.8,413.9 L65.9,413.9 L66.1,415.2 L66.2,415 L66.5,412.9 L66.6,413.3 L66.8,410.7 L67,410.6 L67.1,410.4 L67.2,408.8 L67.5,411.4 L67.6,410.3 L68,412.7 L68.2,412.8 L68.5,410.9 L68.6,418.5 L68.8,418.5 L69,409.9 L69.2,409.2 L69.5,411 L69.6,410.9 L69.7,412 L69.9,411.2 L70.1,412.7 L70.2,412.3 L70.4,414.4 L70.9,411.9 L71,412.5 L71.1,411.7 L71.2,411.9 L71.3,410.1 L71.6,413.4 L71.7,412.9 L72.1,415.9 L72.2,415.5 L72.4,415.6 L72.5,414.7 L72.6,414.6 L72.7,416.1 L72.8,414.2 L73,414.9 L73.3,414.2 L73.4,414 L73.5,414.2 L73.6,418.5 L73.8,418.5 L73.9,415.7 L74.2,417.3 L74.3,416.2 L74.5,417.2 L74.6,417.2 L74.7,417.7 L75,415.7 L75.1,415.6 L75.2,416.3 L75.8,414.1 L75.9,414.8 L76,414.5 L76.1,414.7 L76.2,412.7 L76.3,414.3 L76.4,412.9 L76.6,413.2 L76.8,412.8 L76.9,413.2 L77,412.2 L77.1,413.3 L77.4,411.1 L77.6,411.5 L77.8,410.3 L77.9,408.8 L78,409.2 L78.2,418.5 L78.4,418.5 L78.5,409.9 L78.7,411.2 L78.8,411.1 L78.9,412.5 L79.2,410.9 L79.3,411.1 L79.6,409.3 L79.7,407.4 L79.9,407.6 L80.2,405.7 L80.3,406.1 L80.4,405.4 L80.7,405.1 L80.9,404.4 L81.4,409.1 L81.6,408.5 L81.8,411 L82.2,408.5 L82.4,410 L82.5,407.9 L82.6,408.2 L82.7,407.6 L82.8,408.5 L83,408.8 L83.2,408.6 L83.4,410 L83.5,408.9 L83.7,408.4 L83.8,407.6 L83.9,408.1 L84.4,405.4 L84.6,404.9 L84.7,405.9 L84.9,404.9 L85,418.5 L85.2,418.5 L85.3,406.6 L85.4,406.2 L85.5,406.7 L85.8,406 L86.1,409 L86.2,408.3 L86.4,409.5 L86.7,409.8 L87,406.2 L87.1,406.4 L87.6,402.3 L87.8,403.2 L88.5,409.3 L88.6,418.5 L88.8,418.5 L88.9,409.6 L89.2,412.5 L89.3,411.5 L89.5,412.7 L90.2,407.5 L90.3,405.4 L90.5,405 L91,399.7 L91.1,399.9 L91.3,397.4 L91.6,401.4 L91.7,400.8 L91.8,402.8 L91.9,402.5 L92.2,407.2 L92.4,406.5 L92.5,407.5 L92.7,407 L92.8,408.3 L92.9,407.9 L93.1,409.3 L93.3,409.2 L93.5,410.2 L93.7,411.6 L93.8,411.6 L93.9,412.5 L94.1,418.5 L94.3,418.5 L94.4,415.4 L94.5,415.5 L94.6,416.2 L94.7,414.1 L95.1,416.8 L95.2,416.4 L95.4,417.5 L95.5,417.2 L95.6,418.4 L95.8,418.5 L96.1,416.8 L96.2,417 L96.3,416.2 L96.4,416.6 L96.8,414.9 L96.9,416.9 L97,415.7 L97.1,416.3 L97.2,416 L97.4,416.3 L97.5,418.5 L97.7,418.5 L97.9,416.5 L98,417.3 L98.1,416.4 L98.3,416.7 L98.4,415 L98.5,415.9 L98.6,414.4 L98.7,415.8 L98.8,413.7 L98.9,414.6 L99.2,412.7 L99.4,412.8 L99.5,413 L99.6,412.8 L99.7,413.2 L99.8,412.7 L100.2,414.8 L100.3,415.2 L100.4,415.1 L100.5,414 L100.6,414.1 L101,412.3 L101.2,410 L101.3,418.5 L101.6,418.5 L101.7,411.3 L101.8,411.6 L101.9,411.3 L102.1,413 L102.2,413 L102.3,413.3 L102.5,411.8 L103,410.1 L103.3,409.1 L103.6,411.2 L103.7,411.3 L103.9,412.7 L104.2,413.4 L104.3,413 L104.5,415.7 L104.7,415.1 L105,415.8 L105.1,417 L105.2,416.5 L105.3,417.5 L105.4,417.4 L105.6,418.5 L105.8,418.5 L106,417.5 L106.1,417.6 L106.4,416.2 L106.6,418.5 L106.8,418.5 L106.9,415.7 L107,415.4 L107.2,416.8 L107.3,416.3 L107.5,416.8 L107.6,416.2 L107.7,416.1 L107.8,417.6 L108.1,415.7 L108.3,415.8 L108.4,416.8 L108.6,414.8 L108.7,415.6 L108.8,414.1 L108.9,415.3 L109.1,414.6 L109.2,414.8 L109.3,413.3 L109.4,413.4 L109.5,413.3 L109.6,413.5 L109.8,412.6 L110,418.5 L110.2,418.5 L110.3,412.2 L110.4,411.7 L110.6,413.3 L110.8,412.2 L111,414 L111.3,415.5 L111.6,413.4 L111.9,411.7 L112.2,409.3 L112.3,410.2 L112.5,410.3 L112.7,409.3 L112.9,410.9 L113,410 L113.1,410.6 L113.3,410.2 L113.4,410.7 L113.5,408.5 L113.8,409.3 L113.9,407.2 L114,418.5 L114.3,418.5 L114.4,408.5 L114.5,408.1 L114.7,408.4 L115.2,405.1 L115.3,403.2 L115.4,403.4 L115.5,402 L115.6,402 L115.8,401.7 L116.5,407.8 L116.8,406.5 L116.9,406.7 L117,404.8 L117.1,405.2 L117.2,404.6 L117.3,405.1 L117.6,405.1 L117.7,405.3 L117.8,405.2 L117.9,406.7 L118,404.9 L118.5,408.2 L118.6,418.5 L118.8,418.5 L118.9,410.5 L119,410.7 L119.2,411.7 L119.4,409.3 L119.5,409.1 L119.6,407.7 L119.7,407.6 L119.8,408 L120,406.4 L120.1,407.7 L120.2,417 L120.6,413.9 L120.9,418.5 L121.1,413.4 L121.3,415 L121.5,413.5 L121.8,415.1 L122,412.6 L122.2,418.5 L122.5,411.2 L122.7,412.9 L122.9,417.7 L123.1,414.6 L123.4,415.2 L123.6,418.5 L123.8,415 L124,417.8 L124.3,417.1 L124.4,380.8 L125.1,380.8 L125.2,416.6 L125.3,385.5 L126.2,385.5 L126.3,417.6 L126.5,415.8 L126.8,416.3 L127,418.1 L127.5,418.4 L127.9,416.4 L128.1,417.5 L128.4,416.9 L128.6,417.4 L128.8,416.4 L129,418.2 L130.1,418 L132,418.5 L157.6,418.4 L157.7,295.9 L158.2,295.9 L158.4,309.7 L158.8,309.7 L158.9,367.4 L159,368.7 L159.7,368 L159.8,271.3 L160.1,271.3 L160.2,361.1 L160.3,357.7 L160.4,309.7 L160.5,309.7 L160.6,418.5 L161.6,418.5 L161.8,309.7 L161.9,309.7 L162,418.5 L164.3,418.5 L164.4,309.7 L164.7,309.7 L164.8,342.6 L165.2,343.8 L165.5,344 L165.9,344.7 L166.6,338.9 L166.8,309.7 L167.1,309.7 L167.2,418.5 L168.4,418.5 L168.5,326.7 L168.6,326.7 L168.7,364.4 L169.4,358.2 L169.9,350.3 L170.1,350.3 L170.2,309.7 L170.3,309.7 L170.4,418.5 L172.2,418.5 L172.3,309.7 L172.9,309.7 L173,418.5 L175.6,418.5 L175.7,312.2 L176.1,312.2 L176.2,418.5 L177,418.5 L177.1,319.5 L177.2,319.5 L177.3,366.3 L178.1,350.8 L178.3,352 L178.8,350.9 L178.9,352 L179,309.7 L179.4,309.7 L179.5,358.2 L180.1,356.6 L180.2,356.9 L180.3,309.7 L180.4,309.7 L180.5,418.5 L181.8,418.5 L181.9,309.7 L182.1,309.7 L182.2,418.5 L183.3,418.5 L183.5,309.7 L183.8,309.7 L183.9,353.8 L184.4,355.2 L184.6,355.5 L184.8,356.9 L185.2,369.4 L185.5,365.1 L185.6,309.7 L185.8,309.7 L186,418.5 L188.1,418.5 L188.2,309.7 L188.5,309.7 L188.6,418.5 L189.1,418.5 L189.3,330.9 L189.5,330.9 L189.6,418.5 L192.1,418.5 L192.2,309.7 L192.5,309.7 L192.7,418.5 L195.4,418.5 L195.5,309.7 L195.7,309.7 L195.8,418.5 L197.2,418.5 L197.3,329.1 L197.4,418.5 L198.8,418.5 L198.9,309.7 L199,309.7 L199.1,356.9 L199.2,356.6 L199.9,359.7 L200.2,356.8 L200.3,309.7 L200.8,309.7 L201,352.5 L201.7,358.1 L201.9,309.7 L202.1,309.7 L202.2,418.5 L203.6,418.5 L203.7,309.7 L203.9,309.7 L204,418.5 L207.1,418.5 L207.2,309.7 L207.5,309.7 L207.7,369.7 L208.7,363.9 L209.2,359.8 L209.4,317.8 L209.8,317.8 L209.9,418.5 L213,418.5 L213.1,317.8 L213.2,317.8 L213.3,418.5 L216.1,418.5 L216.2,319.3 L216.3,319.3 L216.4,418.5 L217.5,418.5 L217.7,309.7 L217.9,309.7 L218,418.5 L220.2,418.5 L220.3,309.7 L220.4,418.5 L222,418.5 L222.1,309.7 L222.7,309.7 L222.8,418.5 L223.7,418.5 L223.8,309.7 L223.9,309.7 L224,352.7 L224.5,346.6 L224.9,347.4 L225.2,348.3 L225.3,331.1 L225.4,331.1 L225.5,418.5 L227.9,418.5 L228,309.7 L228.1,309.7 L228.2,338.8 L228.4,341.1 L229.4,369.6 L229.9,364.9 L230.4,356.4 L230.5,309.7 L230.9,309.7 L231.1,348.5 L231.4,344.4 L232.5,340.8 L232.6,340.6 L233.3,344.8 L234.2,341.8 L234.4,309.7 L234.9,309.7 L235,371.2 L235.3,378.8 L235.4,379.6 L235.8,374.4 L236.1,369.1 L236.2,368.6 L236.3,309.7 L236.4,309.7 L236.5,418.5 L239,418.5 L239.1,313.5 L239.4,313.5 L239.5,340.1 L240.1,344.7 L240.3,309.7 L240.7,309.7 L240.8,418.5 L242.3,418.5 L242.4,309.7 L242.9,309.7 L243,418.5 L245.8,418.5 L245.9,320.3 L246.1,418.5 L247.2,418.5 L247.3,323.3 L247.4,323.3 L247.5,365.4 L248.4,349 L249,345.5 L249.5,345.5 L249.7,345.7 L250.3,342.8 L250.4,309.7 L250.9,309.7 L251.1,418.5 L254.1,418.5 L254.2,310.7 L254.3,310.7 L254.5,418.5 L256.8,418.5 L257,309.7 L257.4,309.7 L257.5,418.5 L260.5,418.5 L260.6,319.4 L260.7,319.4 L260.8,418.5 L263.7,418.5 L263.8,309.7 L263.9,309.7 L264,418.5 L266.3,418.5 L266.4,310.8 L266.7,310.8 L266.8,418.5 L269.2,418.5 L269.3,309.7 L269.7,309.7 L269.8,418.5 L271.8,418.5 L272,317.3 L272.3,317.3 L272.4,418.5 L275.2,418.5 L275.4,309.7 L275.5,309.7 L275.6,361.3 L276.3,359.6 L277,349.7 L277.6,379.9 L278.1,379.1 L278.8,370.7 L278.9,327 L279,327 L279.1,351.8 L279.8,340.7 L280.2,338.1 L280.5,339.8 L281,364.1 L281.2,365.1 L281.7,362.5 L281.8,309.7 L282.2,309.7 L282.3,418.5 L283.3,418.5 L283.4,324 L283.5,373.8 L283.8,380.5 L284.4,378.8 L284.8,378.8 L284.9,309.7 L285,309.7 L285.1,418.5 L288,418.5 L288.1,312.7 L288.2,312.7 L288.3,418.5 L290.8,418.5 L290.9,316.6 L291.3,316.6 L291.4,355.5 L292.2,342.2 L293.1,334.2 L293.3,332.9 L293.4,333 L293.5,318.1 L293.8,318.1 L293.9,418.5 L296.2,418.5 L296.3,309.7 L296.5,309.7 L296.6,418.5 L299.3,418.5 L299.4,309.7 L299.9,309.7 L300,418.5 L301.9,418.5 L302.1,309.7 L302.4,309.7 L302.5,418.5 L303.9,418.5 L304,309.7 L304.3,309.7 L304.4,418.5 L305.4,418.5 L305.5,313.2 L305.7,313.2 L305.8,349.3 L306.8,345.9 L307.1,345.7 L307.5,370.1 L307.6,331 L308.1,331 L308.2,418.5 L310.4,418.5 L310.5,312.1 L311,312.1 L311.1,418.5 L313.9,418.5 L314,326.4 L314.6,326.4 L314.7,418.5 L316.4,418.5 L316.5,309.7 L316.8,309.7 L316.9,418.5 L318.8,418.5 L318.9,309.7 L319.2,309.7 L319.3,346.4 L319.8,353.9 L320.2,368.3 L320.3,370.9 L321,358.7 L321.1,309.7 L321.3,418.5 L324.3,418.5 L324.4,309.7 L324.6,418.5 L326.7,418.5 L326.8,312.4 L327,312.4 L327.2,418.5 L328.3,418.5 L328.4,331 L328.6,331 L328.8,361.4 L329.5,352.6 L329.8,351.6 L330,352.2 L330.9,366.5 L331.4,365 L331.5,327.9 L331.6,361.8 L332.2,347.9 L332.5,348.2 L332.8,349.1 L333.2,348.7 L333.5,348.8 L333.6,348.7 L334,349.5 L334.2,348.9 L334.3,309.7 L334.4,418.5 L337,418.5 L337.2,309.7 L337.4,309.7 L337.5,418.5 L340,418.5 L340.1,309.7 L340.3,309.7 L340.5,357.8 L341,361.7 L341.7,354 L342,354.7 L342.3,356.2 L342.7,369.8 L342.8,370.4 L343.1,365.9 L343.2,309.7 L343.3,399.6 L343.5,404.5 L343.9,406.2 L344.3,409.2 L344.4,410.8 L344.5,409.4 L344.8,411.7 L345,410.8 L345.1,411.3 L345.2,409.2 L345.5,411.3 L345.6,411.3 L345.8,414 L345.9,412.1 L346,412.3 L346.1,411.8 L346.2,413 L346.4,411.6 L346.5,413.2 L346.7,411.2 L347,413.3 L347.2,413.1 L347.3,413.2 L347.4,412.9 L347.5,413.6 L347.6,412.9 L347.8,416.3 L348,414 L348.2,414.1 L348.3,415.2 L348.4,414 L348.5,414.1 L348.6,411.8 L349,413.5 L349.2,411.6 L349.4,411.1 L349.5,411.7 L349.9,409.8 L350.2,411.4 L350.3,411.5 L350.5,412.6 L350.6,412.7 L350.9,415.4 L351,415.7 L351.2,414.1 L351.4,416.2 L351.6,414.3 L351.8,416.8 L351.9,416.7 L352,418 L352.2,415.3 L352.3,416.3 L352.5,414.5 L352.6,414.9 L352.7,414.3 L352.8,414.6 L353.1,414 L353.2,415.4 L353.3,414.2 L353.4,414.6 L353.5,414.2 L353.6,415.1 L353.7,414.5 L353.9,416.2 L354,415.5 L354.1,415.4 L354.3,417.7 L354.5,417.8 L354.7,417.7 L354.8,418.5 L355,418.4 L355.2,418.5 L355.3,418 L355.6,418.5 L355.8,418.2 L355.9,418.5 L356.2,418.5 L356.4,373.2 L356.6,373.2 L356.7,417.2 L356.8,417 L356.9,418.2 L357,416.7 L357.2,417.9 L357.3,416.2 L357.4,418.5 L357.5,418.3 L357.7,418.4 L357.8,417.9 L357.9,418.4 L358.1,416.6 L358.2,417.6 L358.3,417.5 L358.4,417.5 L358.5,416.5 L358.6,416.5 L358.7,415.2 L358.9,415.4 L359,414 L359.1,414.9 L359.2,415 L359.4,412.9 L359.7,414.2 L360,412.8 L360.1,412.8 L360.3,415.7 L360.4,413.3 L360.6,415 L360.7,415.1 L360.9,414.5 L361,414.4 L361.2,414.8 L361.4,414.3 L361.6,414.8 L361.7,413.1 L361.8,413.1 L361.9,412.4 L362,413.2 L362.3,410.6 L362.4,410.8 L362.5,409.9 L362.6,410.8 L362.7,409.2 L362.8,409.6 L362.9,409.6 L363.1,410.2 L363.2,409.7 L363.4,410.9 L363.5,410.4 L363.7,410.2 L364,412.4 L364.2,411.1 L364.3,411.7 L364.5,411.1 L364.8,413.8 L364.9,412.7 L365.2,414.3 L365.3,413.4 L365.4,414.2 L365.7,414.5 L365.8,413.6 L365.9,415.3 L366,414.4 L366.1,414.3 L366.2,414.6 L366.4,413.6 L366.5,414.3 L366.7,413.2 L366.9,410.7 L367,411.6 L367.2,409.9 L367.3,410.3 L367.5,406.2 L367.6,404.5 L367.7,405.4 L368.1,401.2 L368.7,409.8 L368.9,408.9 L369.1,410.3 L369.3,411.2 L369.5,410.2 L369.6,410.2 L369.8,410.5 L369.9,409.7 L370,409.9 L370.2,407.8 L370.3,407.8 L370.4,407.1 L370.6,408.1 L370.7,407.1 L370.8,408.5 L370.9,408.2 L371.1,405.1 L371.2,405.3 L371.6,409.4 L371.7,408.9 L371.9,411.3 L372,410 L372.3,412.4 L372.4,412.1 L372.5,413.1 L372.6,412 L372.8,413.2 L373.2,414.8 L373.6,413.3 L373.7,412.1 L373.9,412.1 L374.1,410.5 L374.3,409.6 L374.4,410.7 L374.6,410 L374.8,411.7 L374.9,411.9 L375.2,411.3 L375.3,411.7 L375.7,410 L375.8,410.4 L375.9,409.7 L376,411.1 L376.1,409.3 L376.2,409.6 L376.4,408.2 L376.6,410.5 L376.7,410.8 L376.8,409.9 L376.9,410.8 L377,410.7 L377.1,411.4 L377.4,411.2 L377.5,409.8 L377.6,410.6 L377.7,408.4 L377.9,410.3 L378.1,408" fill="none" stroke="#D95319" stroke-width="1.05" stroke-opacity="1" stroke-linejoin="round" clip-path="url(#c3)"/>
<path d="M490.4,267.1 L490.5,267.1 L490.6,325.6 L490.7,326.6 L490.9,324.5 L491,326 L491.2,324.9 L491.3,322.8 L491.4,326.7 L491.7,325.2 L491.8,326.1 L492,324.5 L492.2,326.1 L492.4,325.1 L492.5,326.4 L492.6,326.3 L492.7,326.6 L492.8,326.1 L492.9,327 L493,325.3 L493.2,327.1 L493.3,325.8 L493.5,328 L493.7,327.7 L493.9,328.3 L494,327.1 L494.1,327.4 L494.2,329.8 L494.4,329.2 L494.5,330.4 L494.7,329.4 L494.8,330.5 L494.9,329.4 L495,330.6 L495.1,328 L495.2,330.5 L495.4,330.6 L495.5,329.6 L495.6,331.3 L495.7,331.6 L495.9,329.6 L496,332.9 L496.2,331.5 L496.3,331.9 L496.4,331.6 L496.5,331.9 L496.7,330.2 L496.9,331 L497,331 L497.2,329.3 L497.3,331.8 L497.7,327.6 L497.8,331.4 L497.9,329.2 L498,330.3 L498.1,329 L498.2,331.9 L498.5,326.9 L498.6,328.1 L498.8,328 L498.9,325.5 L499.2,329.5 L499.4,327.4 L499.6,327.9 L499.7,329.2 L499.8,328.4 L500.1,330.7 L500.3,326.7 L500.4,327.2 L500.5,325.6 L500.7,327.2 L500.8,326.2 L501,329.3 L501.2,325.9 L501.5,328.4 L501.7,323.2 L502,325.3 L502.2,326.3 L502.4,324.2 L502.5,324.5 L502.6,322.2 L502.7,324.8 L503,324 L503.1,325.3 L503.2,323 L503.3,324.8 L503.4,323.1 L503.5,323.3 L503.8,320.4 L503.9,324.3 L504,320.7 L504.1,322.6 L504.2,320.5 L504.3,322.2 L504.6,318.5 L504.8,322 L504.9,321.9 L505,323.9 L505.3,322.2 L505.4,324.7 L505.5,324.1 L505.7,326.2 L505.8,325.3 L506.1,328.3 L506.2,328.2 L506.5,330.7 L506.6,330.4 L506.8,331.8 L507,330.3 L507.1,330.6 L507.2,334.3 L507.3,333.8 L507.4,335.9 L507.7,335.9 L507.8,334.5 L508,335.9 L508.1,335.9 L508.7,329.9 L508.8,325.8 L508.9,326.8 L509.1,326.8 L509.3,325.3 L509.4,323.2 L509.5,323.7 L509.6,319.1 L509.8,319.1 L510,317.5 L510.1,317.9 L510.2,316.6 L510.6,322.4 L510.7,320.9 L511,327.3 L511.1,325.2 L511.4,331.2 L511.6,333.8 L511.8,330 L511.9,333 L512.1,328.9 L512.2,329.3 L512.3,332.5 L512.5,326.2 L512.7,326.7 L512.9,326.6 L513.1,324.7 L513.2,326.2 L513.3,324.8 L513.4,324.6 L513.6,327 L513.7,326.3 L513.8,329 L514,325.4 L514.1,325.8 L514.2,324.8 L514.5,326 L514.7,329.1 L514.8,326.9 L514.9,328.6 L515.1,327.7 L515.2,329.9 L515.3,327.4 L515.4,329.6 L515.5,328.6 L515.6,328.9 L515.7,327.9 L515.9,329.1 L516,327.1 L516.2,328.5 L516.6,326.2 L516.7,326.8 L516.8,326.5 L517,330.4 L517.1,325.5 L517.2,328.8 L517.5,329 L517.6,333 L517.7,329.4 L518,327.7 L518.2,332.2 L518.3,329.1 L518.4,328.8 L518.5,330.9 L518.6,331 L518.9,328.9 L519,330.1 L519.1,328 L519.2,329.4 L519.3,329 L519.4,329.1 L519.5,328.7 L519.7,331.7 L519.8,328.5 L520,332.5 L520.1,331.6 L520.2,331.8 L520.4,334.9 L520.6,331.1 L520.7,332.9 L520.9,331.4 L521,333.3 L521.2,333.3 L521.3,332.7 L521.5,334.5 L521.6,334.5 L521.7,335.4 L521.8,335.2 L522,333.7 L522.1,334.4 L522.2,334.5 L522.3,335.3 L522.4,333.1 L522.5,334.7 L522.7,333.9 L522.9,335.9 L523,335.9 L523.1,334.2 L523.3,333 L523.6,335.9 L523.8,333.2 L524,333.2 L524.2,334.9 L524.3,333.4 L524.4,334.5 L524.6,333.5 L524.7,333.8 L524.8,330.4 L525,333.1 L525.1,332.3 L525.2,334.7 L525.3,334.6 L525.5,331.5 L525.7,331.9 L525.9,328.7 L526.1,331.1 L526.2,329.2 L526.3,331.5 L526.5,331.4 L526.6,327.2 L526.7,329.9 L526.8,330.2 L526.9,329 L527.1,330.6 L527.5,328.8 L527.6,329.3 L527.7,328.5 L527.8,329.4 L528.2,326.4 L528.3,326.3 L528.5,327.4 L528.6,326.9 L528.8,329 L528.9,325.2 L529,328.2 L529.1,325.5 L529.3,326.8 L529.5,323.4 L529.6,323.3 L529.8,325.7 L529.9,325.6 L530,324.6 L530.1,327.2 L530.3,325.7 L530.5,328.1 L530.6,325.8 L530.7,327.5 L530.8,327.5 L531,327.6 L531.1,326.8 L531.2,327.9 L531.3,325.5 L531.4,326.3 L531.5,326.3 L531.6,325.3 L531.8,328 L532.1,329.7 L532.2,326.2 L532.3,326.1 L532.6,327.5 L532.7,329.5 L532.8,326.6 L533,328.1 L533.3,326.8 L533.4,327.3 L533.5,326.8 L533.6,328.1 L533.9,326.1 L534.1,324.4 L534.2,326.3 L534.3,325.3 L534.5,325.6 L534.6,327.5 L534.8,323.5 L534.9,328.1 L535,323.6 L535.1,323.7 L535.2,324.7 L535.3,323.3 L535.4,324.4 L535.6,323.3 L535.7,325.2 L535.9,323.1 L536.2,323.9 L536.4,326 L536.5,325.1 L536.6,328.1 L536.7,327.4 L537.1,331.2 L537.2,328.8 L537.3,333.4 L537.5,330.3 L538.1,335.9 L538.2,334.2 L538.3,334 L538.6,331.7 L538.7,332.1 L538.9,327.6 L539,328.8 L539.4,325.5 L539.5,322.4 L539.6,323.5 L539.7,321.5 L539.8,322.1 L540.1,319.6 L540.2,319.8 L540.3,322.4 L540.4,320.8 L540.5,324.3 L540.6,322.7 L541.1,329.3 L541.2,329.5 L541.3,329.1 L541.4,329.7 L541.5,333.7 L541.7,331.2 L541.8,333.5 L541.9,332.3 L542,334.5 L542.1,332.9 L542.2,334.3 L542.4,333.3 L542.6,335.1 L542.9,330.8 L543,331.1 L543.2,334 L543.3,330.5 L543.6,335.2 L543.7,332.3 L543.9,333.1 L544.1,331 L544.2,332.4 L544.4,332.4 L544.5,333.9 L544.7,332.6 L544.8,332.9 L544.9,331.9 L545,333.1 L545.1,332.4 L545.4,332.8 L545.5,332.5 L545.6,330.2 L545.7,333.2 L545.9,331.1 L546,333.6 L546.2,330.9 L546.3,331.7 L546.4,330.8 L546.6,332.2 L546.7,332.1 L546.8,329.5 L547,332.6 L547.1,330.4 L547.4,332.4 L547.5,332.5 L547.7,331.6 L547.8,332.1 L547.9,330.8 L548,331.9 L548.1,330.5 L548.2,330.5 L548.3,335.7 L548.6,331.8 L548.7,330.5 L548.9,332.6 L549.2,329.7 L549.3,332.2 L549.4,330.2 L549.5,330.9 L549.6,329 L549.7,331.1 L549.8,329.4 L550,331.7 L550.1,328.3 L550.3,332.1 L550.4,330.9 L550.5,332.5 L550.6,332.1 L550.8,328.6 L551,332.3 L551.1,330 L551.2,329.6 L551.3,331.1 L551.6,330.7 L551.8,328.4 L551.9,331 L552.1,328.6 L552.3,330.5 L552.4,328.4 L552.5,328.4 L552.6,329.7 L552.7,328.8 L552.8,330.9 L553,330.3 L553.1,331.3 L553.2,329.7 L553.3,332 L553.5,331 L553.8,331.3 L553.9,335.2 L554.1,330.5 L554.3,334.3 L554.5,332.6 L554.6,335.4 L554.7,332.4 L554.8,334.7 L554.9,331.9 L555,334.8 L555.1,333 L555.4,333 L555.5,331.8 L555.6,334.2 L555.8,331.7 L555.9,334.1 L556.1,334.3 L556.2,331.8 L556.3,333.6 L556.5,333.2 L556.6,334.9 L557,330.2 L557.2,334.9 L557.4,331 L557.7,331.8 L557.8,332.8 L558,329.5 L558.3,334.2 L558.4,331.7 L558.5,331.8 L558.6,330.8 L558.7,333.4 L558.8,332.2 L558.9,332.2 L559.2,329 L559.3,329.9 L559.4,329.3 L559.5,330.8 L559.6,330 L559.8,332.9 L560,329.2 L560.1,330.7 L560.2,330 L560.3,330.3 L560.6,329.6 L560.8,330.6 L561,327.6 L561.2,331.2 L561.4,329.9 L561.5,330 L561.7,327.7 L561.9,331 L562.1,331.1 L562.2,327.8 L562.3,329 L562.4,327.9 L562.5,329.3 L562.6,326.9 L562.7,328.4 L562.9,325.5 L563,328.9 L563.1,326.4 L563.4,328.4 L563.7,326.4 L563.8,326.6 L564,325 L564.1,323 L564.4,325.2 L564.5,322.4 L564.6,324.9 L564.8,323.1 L564.9,324.2 L565,324 L565.2,324.6 L565.3,322.4 L565.4,322.6 L565.5,325.7 L565.6,324.8 L565.7,324.9 L565.9,324.6 L566.1,326.7 L566.2,325.6 L566.3,326 L566.4,325.6 L566.7,327.4 L566.9,324.8 L567,326 L567.1,325.1 L567.2,326.3 L567.4,325.4 L567.6,327 L567.7,325.1 L567.8,326.7 L567.9,325.4 L568,328.5 L568.2,328.3 L568.3,326.5 L568.4,331.8 L568.5,328.6 L568.6,328 L568.7,328.1 L569,330.6 L569.1,329.3 L569.4,331.2 L569.7,333.2 L569.8,331.4 L569.9,332.5 L570,331.3 L570.1,332.7 L570.3,331.8 L570.5,329.2 L570.6,330.8 L570.7,330.3 L570.8,332.4 L570.9,331.8 L571,335.2 L571.2,335 L571.3,335.2 L571.4,334.6 L571.5,335.2 L571.6,334.3 L571.7,335.2 L571.8,334.2 L572,335.2 L572.1,334.1 L572.2,335.2 L572.3,333.4 L572.4,335.2 L572.5,333 L572.7,335.2 L572.8,332.2 L572.9,335.2 L573,332.4 L573.1,335.2 L573.2,332.8 L573.3,335.2 L573.5,331.4 L573.6,335.2 L573.7,332.6 L573.8,335.2 L573.9,331.9 L574,335.2 L574.2,331.5 L574.3,335.2 L574.4,331.6 L574.5,335.2 L574.6,332.9 L574.7,335.2 L574.8,331.3 L575,335.2 L575.1,332.1 L575.2,335.2 L575.3,332 L575.4,335.2 L575.5,333.1 L575.6,335.2 L575.8,332.6 L575.9,335.2 L576,332.7 L576.1,335.2 L576.2,333.1 L576.3,335.2 L576.5,334.1 L576.6,335.2 L576.7,334.1 L576.8,335.2 L576.9,334.5 L577,335.2 L577.1,334.7 L577.3,335.2 L577.5,334.5 L577.6,331.6 L577.7,333.8 L577.8,332.6 L578,335.9 L578.1,333.1 L578.2,335.9 L578.3,335.9 L578.4,333.4 L584.2,331.4 L607.8,331.4 L607.9,267.1 L611.7,267.1 L611.8,335.9 L612.7,335.9 L612.9,267.1 L617.9,267.1 L618,335.9 L619.1,335.9 L619.2,267.1 L621.4,267.1 L621.5,335.9 L622.4,335.9 L622.5,267.1 L624.6,267.1 L624.7,335.9 L625.9,335.9 L626,267.1 L628.5,267.1 L628.6,335.9 L628.9,335.9 L629,267.1 L630.6,267.1 L630.7,335.9 L631.8,335.9 L631.9,267.1 L633,267.1 L633.1,280.9 L633.4,280.9 L633.5,267.1 L635.2,267.1 L635.3,335.9 L635.9,335.9 L636,267.1 L642.3,267.1 L642.5,335.9 L643.5,335.9 L643.6,267.1 L648.3,267.1 L648.5,335.9 L649.4,335.9 L649.5,267.1 L650.8,267.1 L650.9,304.9 L651.1,304.9 L651.2,267.1 L654.6,267.1 L654.7,335.9 L655.5,335.9 L655.6,267.1 L657.8,267.1 L657.9,335.9 L658.6,335.9 L658.7,267.1 L661.2,267.1 L661.4,335.9 L662.5,335.9 L662.6,267.1 L665.3,267.1 L665.4,284.3 L665.6,284.3 L665.7,267.1 L667.9,267.1 L668,335.9 L668.8,335.9 L669,267.1 L671.8,267.1 L672,335.9 L673.2,335.9 L673.3,267.1 L674.6,267.1 L674.7,335.9 L674.9,335.9 L675.1,267.1 L679.4,267.1 L679.6,335.9 L680.6,335.9 L680.7,267.1 L685.7,267.1 L685.8,335.9 L686.7,335.9 L686.8,267.1 L691.4,267.1 L691.5,335.9 L692.5,335.9 L692.6,267.1 L692.9,267.1 L693,287.8 L693.3,287.8 L693.4,267.1 L695.1,267.1 L695.2,335.9 L696.3,335.9 L696.4,267.1 L698.1,267.1 L698.2,335.9 L698.9,335.9 L699,267.1 L705.2,267.1 L705.4,335.9 L705.9,335.9 L706.1,267.1 L708.9,267.1 L709,335.9 L710,335.9 L710.1,267.1 L715.6,267.1 L715.7,335.9 L716.3,335.9 L716.4,267.1 L719.5,267.1 L719.6,335.9 L719.9,335.9 L720,267.1 L722.1,267.1 L722.2,335.9 L723.4,335.9 L723.6,267.1 L728.7,267.1 L728.9,335.9 L729.7,335.9 L729.8,267.1 L730.9,267.1 L731.1,280.9 L731.3,280.9 L731.4,267.1 L732.2,267.1 L732.3,335.9 L733.4,335.9 L733.5,267.1 L735,267.1 L735.1,335.9 L736.4,335.9 L736.5,267.1 L741.7,267.1 L741.8,335.9 L742.6,335.9 L742.7,267.1 L745.8,267.1 L745.9,335.9 L746.6,335.9 L746.7,267.1 L748.2,267.1 L748.3,291.2 L748.6,291.2 L748.7,267.1 L752.2,267.1 L752.4,335.9 L752.9,335.9 L753.1,267.1 L755.2,267.1 L755.4,335.9 L755.6,335.9 L755.7,267.1 L759.2,267.1 L759.3,335.9 L759.9,335.9 L760,267.1 L762,267.1 L762.2,294.6 L762.4,294.6 L762.5,267.1 L765.4,267.1 L765.5,335.9 L766.4,335.9 L766.5,267.1 L768.4,267.1 L768.5,335.9 L769.2,335.9 L769.3,267.1 L772.1,267.1 L772.2,335.9 L772.9,335.9 L773,267.1 L775.9,267.1 L776,277.4 L776.2,277.4 L776.3,267.1 L778.7,267.1 L778.9,335.9 L779.4,335.9 L779.6,267.1 L782.4,267.1 L782.5,335.9 L783.6,335.9 L783.7,267.1 L786.3,267.1 L786.5,335.9 L786.7,335.9 L786.8,267.1 L790.3,267.1 L790.4,335.9 L791,335.9 L791.1,267.1 L794.9,267.1 L795,335.9 L795.7,335.9 L795.8,267.1 L796,267.1 L796.1,331.7 L797.2,325.5 L797.4,328.8 L798,331.4 L798.9,329 L799.8,332 L800.7,328 L801.7,332.4 L802.7,331.8 L804.4,332 L805.4,331 L806.3,327.9 L807.2,332.4 L808.1,330.7 L809,330.7 L809.3,331.2 L809.4,286.4 L809.6,286.4 L809.7,332 L810,332.4 L810.9,328.3 L811.8,331.2 L812.7,330.1 L813.7,330.5 L814.6,329.6 L815.5,332.4 L816.4,330.3 L817.3,332.4 L818.3,328.9 L819.2,328.5 L820.1,325.4 L821,330.2 L821.9,326.6 L822.9,330.1 L823.8,327.3 L824.8,329.5 L825.6,332.4 L826.7,330.1 L827.5,327.1 L828.4,332.4 L829.3,332.4 L830.2,328.8 L831.2,332 L831.4,332.1" fill="none" stroke="#0072BD" stroke-width="1.05" stroke-opacity="1" stroke-linejoin="round" clip-path="url(#c4)"/>
<path d="M490.4,335.9 L508.4,335.9 L508.8,337.1 L509.3,335.9 L522.9,335.9 L523.3,338.5 L523.5,338.6 L523.6,339.5 L524.3,335.9 L542,335.9 L542.2,337.4 L542.4,337.5 L542.6,339.6 L542.9,338.9 L543.2,337.3 L543.4,335.9 L559.1,335.9 L559.5,336.9 L560,335.9 L570.6,335.9 L570.9,336.7 L571,335.9 L571.2,335.9 L571.3,337 L571.4,335.9 L571.5,337.6 L571.6,335.9 L571.7,338.8 L571.8,335.9 L572,340 L572.1,335.9 L572.2,341 L572.3,335.9 L572.4,340.1 L572.5,335.9 L572.7,343.1 L572.8,335.9 L572.9,343.8 L573,335.9 L573.1,340.3 L573.2,335.9 L573.3,343.5 L573.5,335.9 L573.6,343.6 L573.7,335.9 L573.8,342.9 L573.9,335.9 L574,343 L574.2,335.9 L574.3,342.1 L574.4,335.9 L574.5,343.2 L574.6,335.9 L574.7,345.5 L574.8,335.9 L575,341.3 L575.1,335.9 L575.2,342.3 L575.3,335.9 L575.4,341.8 L575.5,335.9 L575.6,342.4 L575.8,335.9 L575.9,339.6 L576,335.9 L576.1,339.8 L576.2,335.9 L576.3,338.8 L576.5,335.9 L576.6,340 L576.7,335.9 L576.8,338.7 L576.9,335.9 L577,338 L577.1,335.9 L577.3,336.9 L577.4,335.9 L611.9,335.9 L612.1,404.6 L612.7,404.6 L612.9,335.9 L618.2,335.9 L618.3,394.3 L619.1,394.3 L619.2,335.9 L621.6,335.9 L621.7,404.6 L622.4,404.6 L622.5,335.9 L624.8,335.9 L625,404.6 L625.9,404.6 L626,335.9 L630.8,335.9 L630.9,404.6 L631.8,404.6 L631.9,335.9 L635.4,335.9 L635.6,404.6 L635.9,404.6 L636,335.9 L642.6,335.9 L642.7,382.6 L643.5,382.6 L643.6,335.9 L648.6,335.9 L648.7,404.6 L649.4,404.6 L649.5,335.9 L654.8,335.9 L654.9,404.6 L655.5,404.6 L655.6,335.9 L658,335.9 L658.1,404.6 L658.6,404.6 L658.7,335.9 L661.5,335.9 L661.6,404.6 L662.5,404.6 L662.6,335.9 L668.2,335.9 L668.3,404.6 L668.8,404.6 L669,335.9 L672.1,335.9 L672.2,404.6 L673.2,404.6 L673.3,335.9 L679.7,335.9 L679.8,381.9 L680.6,381.9 L680.7,335.9 L685.9,335.9 L686,404.6 L686.7,404.6 L686.8,335.9 L691.7,335.9 L691.8,404.6 L692.5,404.6 L692.6,335.9 L695.3,335.9 L695.5,404.6 L696.3,404.6 L696.4,335.9 L698.3,335.9 L698.5,404.6 L698.9,404.6 L699,335.9 L705.5,335.9 L705.6,404.6 L705.9,404.6 L706.1,335.9 L709.2,335.9 L709.3,404.6 L710,404.6 L710.1,335.9 L715.8,335.9 L716,383.9 L716.3,383.9 L716.4,335.9 L722.3,335.9 L722.4,404.6 L723.4,404.6 L723.6,335.9 L729,335.9 L729.1,404.6 L729.7,404.6 L729.8,335.9 L732.4,335.9 L732.5,404.6 L733.4,404.6 L733.5,335.9 L735.2,335.9 L735.3,404.6 L736.4,404.6 L736.5,335.9 L741.9,335.9 L742,404.6 L742.6,404.6 L742.7,335.9 L746,335.9 L746.1,404.6 L746.6,404.6 L746.7,335.9 L752.5,335.9 L752.6,383.9 L752.9,383.9 L753.1,335.9 L759.4,335.9 L759.5,404.6 L759.9,404.6 L760,335.9 L765.6,335.9 L765.7,385.3 L766.4,385.3 L766.5,335.9 L768.6,335.9 L768.7,383.9 L769.2,383.9 L769.3,335.9 L772.3,335.9 L772.4,404.6 L772.9,404.6 L773,335.9 L779,335.9 L779.1,373.6 L779.4,373.6 L779.6,335.9 L782.7,335.9 L782.8,404.6 L783.6,404.6 L783.7,335.9 L790.5,335.9 L790.6,383.9 L791,383.9 L791.1,335.9 L795.1,335.9 L795.2,404.6 L795.7,404.6 L795.8,335.9 L831.4,335.9" fill="none" stroke="#D95319" stroke-width="1.05" stroke-opacity="1" stroke-linejoin="round" clip-path="url(#c4)"/>
<text transform="translate(41.80 203.70) scale(0.950 1)" font-size="9.8" text-anchor="middle" fill="#111" font-weight="normal">0</text>
<text transform="translate(87.85 203.70) scale(0.950 1)" font-size="9.8" text-anchor="middle" fill="#111" font-weight="normal">200</text>
<text transform="translate(133.91 203.70) scale(0.950 1)" font-size="9.8" text-anchor="middle" fill="#111" font-weight="normal">400</text>
<text transform="translate(179.96 203.70) scale(0.950 1)" font-size="9.8" text-anchor="middle" fill="#111" font-weight="normal">600</text>
<text transform="translate(226.02 203.70) scale(0.950 1)" font-size="9.8" text-anchor="middle" fill="#111" font-weight="normal">800</text>
<text transform="translate(272.07 203.70) scale(0.950 1)" font-size="9.8" text-anchor="middle" fill="#111" font-weight="normal">1000</text>
<text transform="translate(318.12 203.70) scale(0.950 1)" font-size="9.8" text-anchor="middle" fill="#111" font-weight="normal">1200</text>
<text transform="translate(364.18 203.70) scale(0.950 1)" font-size="9.8" text-anchor="middle" fill="#111" font-weight="normal">1400</text>
<text transform="translate(37.00 193.40) scale(0.950 1)" font-size="9.8" text-anchor="end" fill="#111" font-weight="normal">0</text>
<text transform="translate(37.00 141.27) scale(0.950 1)" font-size="9.8" text-anchor="end" fill="#111" font-weight="normal">50</text>
<text transform="translate(37.00 89.13) scale(0.950 1)" font-size="9.8" text-anchor="end" fill="#111" font-weight="normal">100</text>
<text transform="translate(37.00 37.00) scale(0.950 1)" font-size="9.8" text-anchor="end" fill="#111" font-weight="normal">150</text>
<text transform="translate(490.00 203.70) scale(0.950 1)" font-size="9.8" text-anchor="middle" fill="#111" font-weight="normal">0</text>
<text transform="translate(603.67 203.70) scale(0.950 1)" font-size="9.8" text-anchor="middle" fill="#111" font-weight="normal">500</text>
<text transform="translate(717.33 203.70) scale(0.950 1)" font-size="9.8" text-anchor="middle" fill="#111" font-weight="normal">1000</text>
<text transform="translate(831.00 203.70) scale(0.950 1)" font-size="9.8" text-anchor="middle" fill="#111" font-weight="normal">1500</text>
<text transform="translate(486.00 193.40) scale(0.950 1)" font-size="9.8" text-anchor="end" fill="#0072BD" font-weight="normal">0</text>
<text transform="translate(486.00 152.00) scale(0.950 1)" font-size="9.8" text-anchor="end" fill="#0072BD" font-weight="normal">2000</text>
<text transform="translate(486.00 110.60) scale(0.950 1)" font-size="9.8" text-anchor="end" fill="#0072BD" font-weight="normal">4000</text>
<text transform="translate(486.00 69.20) scale(0.950 1)" font-size="9.8" text-anchor="end" fill="#0072BD" font-weight="normal">6000</text>
<text transform="translate(486.00 27.80) scale(0.950 1)" font-size="9.8" text-anchor="end" fill="#0072BD" font-weight="normal">8000</text>
<text transform="translate(835.00 193.00) scale(0.950 1)" font-size="9.8" text-anchor="start" fill="#D95319" font-weight="normal">0</text>
<text transform="translate(835.00 151.35) scale(0.950 1)" font-size="9.8" text-anchor="start" fill="#D95319" font-weight="normal">10</text>
<text transform="translate(835.00 109.70) scale(0.950 1)" font-size="9.8" text-anchor="start" fill="#D95319" font-weight="normal">20</text>
<text transform="translate(835.00 68.05) scale(0.950 1)" font-size="9.8" text-anchor="start" fill="#D95319" font-weight="normal">30</text>
<text transform="translate(835.00 26.40) scale(0.950 1)" font-size="9.8" text-anchor="start" fill="#D95319" font-weight="normal">40</text>
<text transform="translate(41.80 433.30) scale(0.950 1)" font-size="9.8" text-anchor="middle" fill="#111" font-weight="normal">0</text>
<text transform="translate(155.40 433.30) scale(0.950 1)" font-size="9.8" text-anchor="middle" fill="#111" font-weight="normal">500</text>
<text transform="translate(269.00 433.30) scale(0.950 1)" font-size="9.8" text-anchor="middle" fill="#111" font-weight="normal">1000</text>
<text transform="translate(382.60 433.30) scale(0.950 1)" font-size="9.8" text-anchor="middle" fill="#111" font-weight="normal">1500</text>
<text transform="translate(37.00 422.50) scale(0.950 1)" font-size="9.8" text-anchor="end" fill="#111" font-weight="normal">0</text>
<text transform="translate(37.00 398.91) scale(0.950 1)" font-size="9.8" text-anchor="end" fill="#111" font-weight="normal">0.5</text>
<text transform="translate(37.00 375.33) scale(0.950 1)" font-size="9.8" text-anchor="end" fill="#111" font-weight="normal">1</text>
<text transform="translate(37.00 351.74) scale(0.950 1)" font-size="9.8" text-anchor="end" fill="#111" font-weight="normal">1.5</text>
<text transform="translate(37.00 328.16) scale(0.950 1)" font-size="9.8" text-anchor="end" fill="#111" font-weight="normal">2</text>
<text transform="translate(37.00 304.57) scale(0.950 1)" font-size="9.8" text-anchor="end" fill="#111" font-weight="normal">2.5</text>
<text transform="translate(37.00 280.99) scale(0.950 1)" font-size="9.8" text-anchor="end" fill="#111" font-weight="normal">3</text>
<text transform="translate(37.00 257.40) scale(0.950 1)" font-size="9.8" text-anchor="end" fill="#111" font-weight="normal">3.5</text>
<text transform="translate(490.40 433.30) scale(0.950 1)" font-size="9.8" text-anchor="middle" fill="#111" font-weight="normal">0</text>
<text transform="translate(536.48 433.30) scale(0.950 1)" font-size="9.8" text-anchor="middle" fill="#111" font-weight="normal">200</text>
<text transform="translate(582.56 433.30) scale(0.950 1)" font-size="9.8" text-anchor="middle" fill="#111" font-weight="normal">400</text>
<text transform="translate(628.64 433.30) scale(0.950 1)" font-size="9.8" text-anchor="middle" fill="#111" font-weight="normal">600</text>
<text transform="translate(674.72 433.30) scale(0.950 1)" font-size="9.8" text-anchor="middle" fill="#111" font-weight="normal">800</text>
<text transform="translate(720.80 433.30) scale(0.950 1)" font-size="9.8" text-anchor="middle" fill="#111" font-weight="normal">1000</text>
<text transform="translate(766.88 433.30) scale(0.950 1)" font-size="9.8" text-anchor="middle" fill="#111" font-weight="normal">1200</text>
<text transform="translate(812.96 433.30) scale(0.950 1)" font-size="9.8" text-anchor="middle" fill="#111" font-weight="normal">1400</text>
<text transform="translate(485.80 408.56) scale(0.950 1)" font-size="9.8" text-anchor="end" fill="#111" font-weight="normal">-1</text>
<text transform="translate(485.80 374.20) scale(0.950 1)" font-size="9.8" text-anchor="end" fill="#111" font-weight="normal">-0.5</text>
<text transform="translate(485.80 339.85) scale(0.950 1)" font-size="9.8" text-anchor="end" fill="#111" font-weight="normal">0</text>
<text transform="translate(485.80 305.50) scale(0.950 1)" font-size="9.8" text-anchor="end" fill="#111" font-weight="normal">0.5</text>
<text transform="translate(485.80 271.14) scale(0.950 1)" font-size="9.8" text-anchor="end" fill="#111" font-weight="normal">1</text>
<text x="42.6" y="251.8" font-size="10.5" fill="#262626">&#215;</text>
<text x="50.2" y="250.6" font-size="9.8" fill="#262626">10</text>
<text x="60.8" y="246.2" font-size="7.2" fill="#262626">4</text>
<text transform="translate(212.10 17.60)" font-size="11" text-anchor="middle" fill="#000" font-weight="bold">Speeds</text>
<text transform="translate(660.50 17.60)" font-size="11" text-anchor="middle" fill="#000" font-weight="bold">Motor</text>
<text transform="translate(212.10 247.70)" font-size="11" text-anchor="middle" fill="#000" font-weight="bold">Power</text>
<text transform="translate(660.50 247.70)" font-size="11" text-anchor="middle" fill="#000" font-weight="bold">Control signals</text>
<text transform="translate(212.10 218.90) scale(1.080 1)" font-size="10.6" text-anchor="middle" fill="#111" font-weight="normal">Time [s]</text>
<text transform="translate(660.50 218.90) scale(1.080 1)" font-size="10.6" text-anchor="middle" fill="#111" font-weight="normal">Time [s]</text>
<text transform="translate(212.10 448.30) scale(1.080 1)" font-size="10.6" text-anchor="middle" fill="#111" font-weight="normal">Time [s]</text>
<text transform="translate(660.50 448.00) scale(1.080 1)" font-size="10.6" text-anchor="middle" fill="#111" font-weight="normal">Time [s]</text>
<text transform="translate(14.60 104.60) rotate(-90)" font-size="11.0" text-anchor="middle" fill="#111" font-weight="normal">Speed [km/h]</text>
<text transform="translate(458.60 106.40) rotate(-90)" font-size="11.0" text-anchor="middle" fill="#0072BD" font-weight="normal">[RPM]</text>
<text transform="translate(861.50 106.40) rotate(-90)" font-size="11.0" text-anchor="middle" fill="#D95319" font-weight="normal">[Nm]</text>
<text transform="translate(17.60 335.80) rotate(-90)" font-size="11.0" text-anchor="middle" fill="#111" font-weight="normal">Power [W]</text>
<text transform="translate(463.60 335.80) rotate(-90)" font-size="11.0" text-anchor="middle" fill="#111" font-weight="normal">%/100</text>
<rect x="194.8" y="140.3" width="128.5" height="27.9" fill="#fff" stroke="#262626" stroke-width="1"/>
<line x1="200.9" y1="147.3" x2="230.7" y2="147.3" stroke="#0072BD" stroke-width="1"/>
<text transform="translate(234.70 151.00) scale(0.955 1)" font-size="9.4" text-anchor="start" fill="#111" font-weight="normal">Speed along the race</text>
<line x1="200.9" y1="159.7" x2="230.7" y2="159.7" stroke="#e8825a" stroke-width="1.2"/>
<text transform="translate(234.70 163.40) scale(0.955 1)" font-size="9.4" text-anchor="start" fill="#111" font-weight="normal">Reference Speed</text>
<rect x="494.2" y="30.6" width="108.2" height="28.8" fill="#fff" stroke="#262626" stroke-width="1"/>
<line x1="500.4" y1="38.3" x2="529.7" y2="38.3" stroke="#0072BD" stroke-width="1.2"/>
<text transform="translate(533.30 42.00) scale(0.955 1)" font-size="9.4" text-anchor="start" fill="#111" font-weight="normal">Rotations [RPM]</text>
<line x1="500.4" y1="50.5" x2="529.7" y2="50.5" stroke="#eb9b78" stroke-width="1"/>
<text transform="translate(533.30 54.20) scale(0.955 1)" font-size="9.4" text-anchor="start" fill="#111" font-weight="normal">Torque [Nm]</text>
<rect x="260.5" y="263.2" width="112.3" height="28.1" fill="#fff" stroke="#262626" stroke-width="1"/>
<line x1="266.1" y1="270.1" x2="295.3" y2="270.1" stroke="#5aa0d8" stroke-width="1"/>
<text transform="translate(299.00 273.80) scale(0.955 1)" font-size="9.4" text-anchor="start" fill="#111" font-weight="normal">MechanicalPower</text>
<line x1="266.1" y1="283.5" x2="295.3" y2="283.5" stroke="#eba58a" stroke-width="1"/>
<text transform="translate(299.00 287.20) scale(0.955 1)" font-size="9.4" text-anchor="start" fill="#111" font-weight="normal">EletricPower</text>
<rect x="516.0" y="362.5" width="72.8" height="28.6" fill="#fff" stroke="#262626" stroke-width="1"/>
<line x1="522.0" y1="370.6" x2="551.6" y2="370.6" stroke="#0072BD" stroke-width="1.2"/>
<text transform="translate(555.20 374.30) scale(0.955 1)" font-size="9.4" text-anchor="start" fill="#111" font-weight="normal">Throttle</text>
<line x1="522.0" y1="383.2" x2="551.6" y2="383.2" stroke="#D95319" stroke-width="1.2"/>
<text transform="translate(555.20 386.90) scale(0.955 1)" font-size="9.4" text-anchor="start" fill="#111" font-weight="normal">Brake</text>
<rect x="187.75" y="40.25" width="7.9" height="7.9" fill="#fbfbe8"/>
<rect x="188.45" y="40.95" width="6.5" height="6.5" fill="#000"/>
<rect x="195.5" y="48.9" width="43.3" height="31.6" fill="#ffffe6" fill-opacity="1" stroke="#dcdcc8" stroke-width="1"/>
<text transform="translate(199.40 62.70)" font-size="9.5" text-anchor="start" fill="#1a1a1a" font-weight="normal">X: 651.1</text>
<text transform="translate(199.40 74.40)" font-size="9.5" text-anchor="start" fill="#1a1a1a" font-weight="normal">Y: 139.6</text>
<rect x="635.05" y="56.85" width="7.9" height="7.9" fill="#fbfbe8"/>
<rect x="635.75" y="57.55" width="6.5" height="6.5" fill="#000"/>
<rect x="644.4" y="24.2" width="41.9" height="31.1" fill="#ffffe6" fill-opacity="1" stroke="#dcdcc8" stroke-width="1"/>
<text transform="translate(646.80 37.80)" font-size="9.5" text-anchor="start" fill="#1a1a1a" font-weight="normal">X: 655.7</text>
<text transform="translate(646.80 50.40)" font-size="9.5" text-anchor="start" fill="#1a1a1a" font-weight="normal">Y: 6176</text>
<rect x="704.25" y="34.35" width="7.9" height="7.9" fill="#fbfbe8"/>
<rect x="704.95" y="35.05" width="6.5" height="6.5" fill="#000"/>
<rect x="713.5" y="43.7" width="42.2" height="31.1" fill="#ffffe6" fill-opacity="1" stroke="#dcdcc8" stroke-width="1"/>
<text transform="translate(716.00 56.80)" font-size="9.5" text-anchor="start" fill="#1a1a1a" font-weight="normal">X: 960.1</text>
<text transform="translate(716.00 68.90)" font-size="9.5" text-anchor="start" fill="#1a1a1a" font-weight="normal">Y: 36.25</text>
<rect x="180.35" y="305.65" width="7.9" height="7.9" fill="#fbfbe8"/>
<rect x="181.05" y="306.35" width="6.5" height="6.5" fill="#000"/>
<rect x="188.4" y="273.8" width="64.3" height="31.2" fill="#ffffe6" fill-opacity="1" stroke="#dcdcc8" stroke-width="1"/>
<text transform="translate(192.10 287.00)" font-size="9.5" text-anchor="start" fill="#1a1a1a" font-weight="normal">X: 627.2</text>
<text transform="translate(192.10 299.50)" font-size="9.5" text-anchor="start" fill="#1a1a1a" font-weight="normal">Y: 2.307e+04</text>
</g></svg></body></html>
